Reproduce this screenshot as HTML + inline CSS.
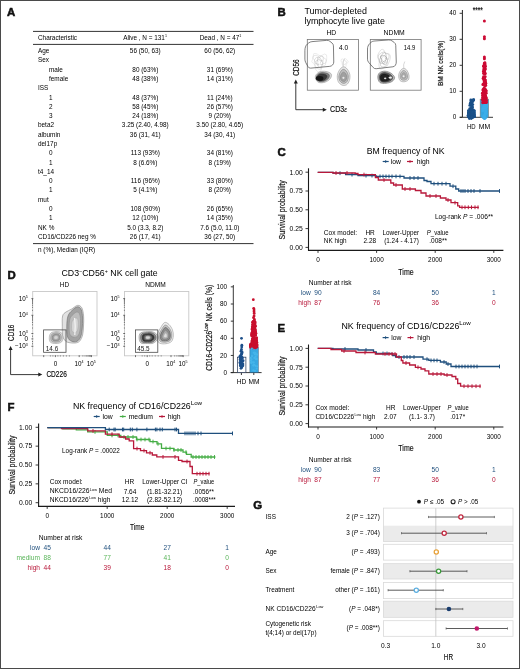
<!DOCTYPE html><html><head><meta charset="utf-8"><style>html,body{margin:0;padding:0;background:#fff;}svg{display:block;font-family:"Liberation Sans",sans-serif;will-change:transform;}</style></head><body><svg width="520" height="669" viewBox="0 0 520 669" font-family="&quot;Liberation Sans&quot;, sans-serif">
<rect width="520" height="669" fill="#fff"/>
<text x="6.90" y="16.40" font-size="11.4" fill="#111" font-weight="bold" stroke="#111" stroke-width="0.55">A</text>
<line x1="33.00" y1="31.40" x2="253.50" y2="31.40" stroke="#333" stroke-width="1"/>
<line x1="33.00" y1="44.40" x2="253.50" y2="44.40" stroke="#333" stroke-width="1"/>
<line x1="33.00" y1="243.60" x2="253.50" y2="243.60" stroke="#333" stroke-width="1"/>
<text x="38.00" y="39.80" font-size="6.4">Characteristic</text>
<text x="145.00" y="39.80" font-size="6.4" text-anchor="middle">Alive , N = 131<tspan font-size="3.6" dy="-2.6">1</tspan></text>
<text x="220.50" y="39.80" font-size="6.4" text-anchor="middle">Dead , N = 47<tspan font-size="3.6" dy="-2.6">1</tspan></text>
<text x="38.00" y="53.10" font-size="6.4">Age</text>
<text x="145.30" y="53.10" font-size="6.4" text-anchor="middle">56 (50, 63)</text>
<text x="219.80" y="53.10" font-size="6.4" text-anchor="middle">60 (56, 62)</text>
<text x="38.00" y="62.39" font-size="6.4">Sex</text>
<text x="49.00" y="71.68" font-size="6.4">male</text>
<text x="145.30" y="71.68" font-size="6.4" text-anchor="middle">80 (63%)</text>
<text x="219.80" y="71.68" font-size="6.4" text-anchor="middle">31 (69%)</text>
<text x="49.00" y="80.97" font-size="6.4">female</text>
<text x="145.30" y="80.97" font-size="6.4" text-anchor="middle">48 (38%)</text>
<text x="219.80" y="80.97" font-size="6.4" text-anchor="middle">14 (31%)</text>
<text x="38.00" y="90.26" font-size="6.4">ISS</text>
<text x="49.00" y="99.55" font-size="6.4">1</text>
<text x="145.30" y="99.55" font-size="6.4" text-anchor="middle">48 (37%)</text>
<text x="219.80" y="99.55" font-size="6.4" text-anchor="middle">11 (24%)</text>
<text x="49.00" y="108.84" font-size="6.4">2</text>
<text x="145.30" y="108.84" font-size="6.4" text-anchor="middle">58 (45%)</text>
<text x="219.80" y="108.84" font-size="6.4" text-anchor="middle">26 (57%)</text>
<text x="49.00" y="118.13" font-size="6.4">3</text>
<text x="145.30" y="118.13" font-size="6.4" text-anchor="middle">24 (18%)</text>
<text x="219.80" y="118.13" font-size="6.4" text-anchor="middle">9 (20%)</text>
<text x="38.00" y="127.42" font-size="6.4">beta2</text>
<text x="145.30" y="127.42" font-size="6.4" text-anchor="middle">3.25 (2.40, 4.98)</text>
<text x="219.80" y="127.42" font-size="6.4" text-anchor="middle">3.50 (2.80, 4.65)</text>
<text x="38.00" y="136.71" font-size="6.4">albumin</text>
<text x="145.30" y="136.71" font-size="6.4" text-anchor="middle">36 (31, 41)</text>
<text x="219.80" y="136.71" font-size="6.4" text-anchor="middle">34 (30, 41)</text>
<text x="38.00" y="146.00" font-size="6.4">del17p</text>
<text x="49.00" y="155.29" font-size="6.4">0</text>
<text x="145.30" y="155.29" font-size="6.4" text-anchor="middle">113 (93%)</text>
<text x="219.80" y="155.29" font-size="6.4" text-anchor="middle">34 (81%)</text>
<text x="49.00" y="164.58" font-size="6.4">1</text>
<text x="145.30" y="164.58" font-size="6.4" text-anchor="middle">8 (6.6%)</text>
<text x="219.80" y="164.58" font-size="6.4" text-anchor="middle">8 (19%)</text>
<text x="38.00" y="173.87" font-size="6.4">t4_14</text>
<text x="49.00" y="183.16" font-size="6.4">0</text>
<text x="145.30" y="183.16" font-size="6.4" text-anchor="middle">116 (96%)</text>
<text x="219.80" y="183.16" font-size="6.4" text-anchor="middle">33 (80%)</text>
<text x="49.00" y="192.45" font-size="6.4">1</text>
<text x="145.30" y="192.45" font-size="6.4" text-anchor="middle">5 (4.1%)</text>
<text x="219.80" y="192.45" font-size="6.4" text-anchor="middle">8 (20%)</text>
<text x="38.00" y="201.74" font-size="6.4">mut</text>
<text x="49.00" y="211.03" font-size="6.4">0</text>
<text x="145.30" y="211.03" font-size="6.4" text-anchor="middle">108 (90%)</text>
<text x="219.80" y="211.03" font-size="6.4" text-anchor="middle">26 (65%)</text>
<text x="49.00" y="220.32" font-size="6.4">1</text>
<text x="145.30" y="220.32" font-size="6.4" text-anchor="middle">12 (10%)</text>
<text x="219.80" y="220.32" font-size="6.4" text-anchor="middle">14 (35%)</text>
<text x="38.00" y="229.61" font-size="6.4">NK %</text>
<text x="145.30" y="229.61" font-size="6.4" text-anchor="middle">5.0 (3.3, 8.2)</text>
<text x="219.80" y="229.61" font-size="6.4" text-anchor="middle">7.6 (5.0, 11.0)</text>
<text x="38.00" y="238.90" font-size="6.4">CD16/CD226 neg %</text>
<text x="145.30" y="238.90" font-size="6.4" text-anchor="middle">26 (17, 41)</text>
<text x="219.80" y="238.90" font-size="6.4" text-anchor="middle">36 (27, 50)</text>
<text x="38.00" y="251.90" font-size="6.4">n (%), Median (IQR)</text>
<text x="277.50" y="15.90" font-size="11.4" fill="#111" font-weight="bold" stroke="#111" stroke-width="0.55">B</text>
<text x="304.50" y="14.00" font-size="8.9">Tumor-depleted</text>
<text x="304.50" y="24.30" font-size="8.9">lymphocyte live gate</text>
<text x="331.30" y="34.70" font-size="6.8" text-anchor="middle">HD</text>
<text x="394.20" y="34.80" font-size="6.8" text-anchor="middle">NDMM</text>
<rect x="307.3" y="39.5" width="51.2" height="50.7" fill="none" stroke="#777" stroke-width="0.8"/>
<rect x="370.3" y="39.5" width="50.8" height="50.7" fill="none" stroke="#777" stroke-width="0.8"/>
<path d="M325.69,61.50 L325.67,63.16 L325.53,64.93 L324.06,65.84 L322.55,66.15 L321.86,67.58 L321.06,70.32 L319.30,71.91 L317.32,71.43 L315.78,69.85 L315.78,66.54 L315.26,65.18 L314.19,64.31 L312.86,63.18 L311.70,61.50 L312.43,59.71 L312.52,57.77 L313.25,55.99 L313.77,53.58 L315.96,53.57 L317.88,54.38 L319.30,55.67 L320.42,55.91 L321.85,55.44 L324.52,54.02 L326.50,54.94 L326.76,57.39 L326.67,59.58Z" fill="none" stroke="#d8d8d8" stroke-width="0.5"/>
<path d="M326.37,61.50 L325.58,63.14 L323.47,63.80 L322.32,64.25 L321.98,65.34 L321.69,67.17 L320.80,68.99 L319.30,69.20 L317.86,68.71 L316.62,67.86 L315.35,67.16 L314.69,65.70 L314.87,63.94 L315.42,62.51 L315.08,61.50 L314.45,60.24 L313.11,58.09 L313.28,56.02 L315.05,55.40 L316.72,55.37 L318.30,56.49 L319.30,55.90 L320.47,55.62 L321.52,56.24 L322.65,56.70 L323.66,57.53 L324.70,58.53 L326.38,59.65Z" fill="none" stroke="#cccccc" stroke-width="0.5"/>
<path d="M322.91,61.50 L323.02,62.47 L322.99,63.53 L322.42,64.35 L322.02,65.40 L321.35,66.37 L320.54,67.73 L319.30,67.58 L318.32,66.42 L317.84,64.96 L317.64,63.88 L316.72,63.85 L315.25,63.73 L314.38,62.78 L314.43,61.50 L314.61,60.28 L314.90,59.08 L315.73,58.24 L316.38,57.32 L317.61,57.50 L318.63,58.14 L319.30,58.06 L320.28,56.61 L321.59,56.06 L322.81,56.47 L323.27,57.88 L323.32,59.29 L322.95,60.55Z" fill="none" stroke="#c0c0c0" stroke-width="0.5"/>
<path d="M322.00,61.50 L322.49,62.33 L322.81,63.43 L322.47,64.39 L321.40,64.51 L320.40,64.10 L319.72,63.58 L319.30,64.05 L318.66,64.70 L317.76,65.15 L317.10,64.65 L316.61,63.95 L316.35,63.12 L316.13,62.33 L315.93,61.50 L316.47,60.76 L317.32,60.41 L317.74,60.08 L317.62,59.10 L317.76,57.85 L318.38,56.89 L319.30,57.10 L320.00,57.97 L320.46,58.75 L320.87,59.24 L321.31,59.67 L321.67,60.19 L322.09,60.77Z" fill="none" stroke="#b0b0b0" stroke-width="0.5"/>
<path d="M321.23,61.50 L320.66,61.86 L320.44,62.13 L320.36,62.47 L320.27,62.88 L319.99,63.13 L319.66,63.31 L319.30,63.58 L318.82,63.89 L318.34,63.77 L318.09,63.24 L318.13,62.56 L318.23,62.09 L318.17,61.79 L317.81,61.50 L317.31,60.98 L317.37,60.44 L317.80,60.14 L318.22,59.95 L318.57,59.77 L318.89,59.46 L319.30,59.73 L319.61,59.93 L319.89,60.11 L320.16,60.27 L320.79,60.15 L321.35,60.37 L321.57,60.91Z" fill="none" stroke="#9a9a9a" stroke-width="0.5"/>
<circle cx="319.3" cy="62.8" r="1.2" fill="#fff"/>
<path d="M347.91,62.50 L347.11,63.29 L346.44,63.75 L346.26,64.37 L346.10,65.17 L345.96,66.55 L345.35,67.47 L344.50,67.09 L343.83,66.44 L343.21,66.08 L342.62,65.64 L342.34,64.80 L342.23,63.95 L341.99,63.26 L341.92,62.50 L341.31,61.53 L341.02,60.26 L341.43,59.24 L342.36,58.92 L343.32,59.24 L343.99,59.53 L344.50,59.12 L345.16,58.66 L345.87,58.71 L346.44,59.25 L346.92,59.93 L347.49,60.58 L348.11,61.40Z" fill="none" stroke="#d8d8d8" stroke-width="0.5"/>
<path d="M346.47,62.50 L346.29,63.05 L345.93,63.42 L345.76,63.84 L345.54,64.24 L345.14,64.27 L344.83,64.40 L344.50,64.52 L344.10,64.86 L343.56,65.11 L343.12,64.81 L343.03,64.06 L343.10,63.40 L343.29,62.87 L343.06,62.50 L342.88,62.01 L342.98,61.53 L343.14,61.05 L343.38,60.63 L343.65,60.15 L344.07,59.96 L344.50,59.92 L344.85,60.47 L345.06,60.95 L345.28,61.19 L345.70,61.22 L346.18,61.42 L346.62,61.85Z" fill="none" stroke="#cccccc" stroke-width="0.5"/>
<path d="M315.30,78.00 C315.02,76.57 315.77,74.92 316.80,73.80 C317.83,72.68 319.72,71.63 321.50,71.30 C323.28,70.97 325.85,71.30 327.50,71.80 C329.15,72.30 330.95,73.13 331.40,74.30 C331.85,75.47 331.27,77.48 330.20,78.80 C329.13,80.12 326.95,81.60 325.00,82.20 C323.05,82.80 320.12,83.10 318.50,82.40 C316.88,81.70 315.58,79.43 315.30,78.00Z" fill="#d4d4d4" stroke="#8a8a8a" stroke-width="0.5"/>
<path d="M316.44,77.90 C316.21,76.75 316.81,75.43 317.64,74.54 C318.47,73.65 319.97,72.81 321.40,72.54 C322.83,72.27 324.88,72.54 326.20,72.94 C327.52,73.34 328.96,74.01 329.32,74.94 C329.68,75.87 329.21,77.49 328.36,78.54 C327.51,79.59 325.76,80.78 324.20,81.26 C322.64,81.74 320.29,81.98 319.00,81.42 C317.71,80.86 316.67,79.05 316.44,77.90Z" fill="#7a7a7a" stroke="#555" stroke-width="0.5"/>
<path d="M317.18,78.00 C317.01,77.14 317.46,76.15 318.08,75.48 C318.70,74.81 319.83,74.18 320.90,73.98 C321.97,73.78 323.51,73.98 324.50,74.28 C325.49,74.58 326.57,75.08 326.84,75.78 C327.11,76.48 326.76,77.69 326.12,78.48 C325.48,79.27 324.17,80.16 323.00,80.52 C321.83,80.88 320.07,81.06 319.10,80.64 C318.13,80.22 317.35,78.86 317.18,78.00Z" fill="#3a3a3a" stroke="#2a2a2a" stroke-width="0.5"/>
<ellipse cx="319.6" cy="78.4" rx="3.8" ry="2.3" fill="#151515"/>
<path d="M343.20,66.80 C344.47,66.67 346.10,67.72 347.20,69.00 C348.30,70.28 349.43,72.58 349.80,74.50 C350.17,76.42 349.95,78.78 349.40,80.50 C348.85,82.22 347.70,84.02 346.50,84.80 C345.30,85.58 343.57,85.70 342.20,85.20 C340.83,84.70 339.12,83.42 338.30,81.80 C337.48,80.18 337.08,77.50 337.30,75.50 C337.52,73.50 338.62,71.25 339.60,69.80 C340.58,68.35 341.93,66.93 343.20,66.80Z" fill="#e4e4e4" stroke="#8c8c8c" stroke-width="0.5"/>
<path d="M343.27,69.35 C344.22,69.25 345.45,70.04 346.27,71.00 C347.10,71.96 347.95,73.69 348.23,75.12 C348.50,76.56 348.34,78.34 347.92,79.62 C347.51,80.91 346.65,82.26 345.75,82.85 C344.85,83.44 343.55,83.53 342.52,83.15 C341.50,82.78 340.21,81.81 339.60,80.60 C338.99,79.39 338.69,77.38 338.85,75.88 C339.01,74.38 339.84,72.69 340.58,71.60 C341.31,70.51 342.32,69.45 343.27,69.35Z" fill="#bdbdbd" stroke="#777" stroke-width="0.5"/>
<path d="M343.35,72.15 C343.98,72.08 344.80,72.61 345.35,73.25 C345.90,73.89 346.47,75.04 346.65,76.00 C346.83,76.96 346.72,78.14 346.45,79.00 C346.18,79.86 345.60,80.76 345.00,81.15 C344.40,81.54 343.53,81.60 342.85,81.35 C342.17,81.10 341.31,80.46 340.90,79.65 C340.49,78.84 340.29,77.50 340.40,76.50 C340.51,75.50 341.06,74.38 341.55,73.65 C342.04,72.93 342.72,72.22 343.35,72.15Z" fill="#a0a0a0" stroke="#777" stroke-width="0.4"/>
<circle cx="343.4" cy="77.8" r="1.1" fill="#e8e8e8"/>
<path d="M343.2,66.8 Q342.5,62 344.5,58.5" fill="none" stroke="#bbb" stroke-width="0.5"/>
<path d="M305.46,46.92 Q306.00,45.20 307.39,44.05 L308.71,42.95 Q310.10,41.80 311.89,41.64 L326.71,40.36 Q328.50,40.20 329.91,41.32 L331.99,42.98 Q333.40,44.10 333.44,45.90 L333.76,61.97 Q333.80,63.70 332.60,64.95 L332.60,64.95 Q331.40,66.20 329.67,66.36 L310.69,68.13 Q308.90,68.30 308.04,66.72 L305.76,62.58 Q304.90,61.00 304.90,59.20 L304.90,50.50 Q304.90,48.70 305.44,46.98Z" fill="none" stroke="#555" stroke-width="0.75"/>
<text x="343.60" y="50.40" font-size="6.6" text-anchor="middle" textLength="9.2" lengthAdjust="spacingAndGlyphs">4.0</text>
<path d="M390.08,59.10 L389.51,61.12 L388.69,62.77 L388.00,64.36 L387.22,65.91 L385.98,66.51 L384.81,67.07 L383.60,67.97 L382.12,68.83 L380.42,69.02 L379.29,67.21 L378.86,64.78 L379.32,62.19 L378.77,60.75 L378.34,59.10 L377.76,57.10 L377.84,54.94 L378.61,53.13 L379.62,51.62 L380.70,50.08 L382.10,49.23 L383.60,49.80 L384.72,51.75 L385.56,52.99 L386.57,53.52 L388.36,53.40 L389.85,54.59 L390.48,56.74Z" fill="none" stroke="#d0d0d0" stroke-width="0.6"/>
<path d="M388.46,59.10 L387.43,60.41 L387.09,61.62 L387.13,63.32 L386.69,64.91 L385.81,65.98 L384.73,66.52 L383.60,66.79 L382.42,66.84 L381.22,66.50 L380.43,65.06 L380.29,63.06 L380.19,61.56 L379.67,60.44 L378.63,59.10 L378.13,57.23 L378.30,55.27 L379.52,54.22 L380.67,53.59 L381.53,52.65 L382.58,52.42 L383.60,52.01 L384.57,52.72 L385.51,53.15 L386.62,53.42 L387.86,54.00 L389.08,55.14 L389.02,57.24Z" fill="none" stroke="#c0c0c0" stroke-width="0.6"/>
<path d="M387.52,59.10 L387.55,60.45 L387.29,61.77 L386.79,62.92 L386.04,63.69 L385.34,64.51 L384.43,64.57 L383.60,64.38 L382.90,63.67 L382.32,63.10 L381.39,63.25 L380.21,63.15 L379.46,62.09 L379.38,60.55 L379.96,59.10 L380.31,57.98 L380.66,56.97 L380.93,55.90 L381.48,55.12 L382.09,54.39 L382.79,53.75 L383.60,52.93 L384.62,52.37 L385.49,53.20 L385.96,54.66 L386.04,56.18 L386.31,57.14 L386.68,58.04Z" fill="none" stroke="#a8a8a8" stroke-width="0.6"/>
<path d="M386.64,59.10 L386.05,59.94 L385.41,60.40 L385.21,61.03 L385.01,61.74 L384.78,62.77 L384.25,63.34 L383.60,63.50 L382.97,63.21 L382.43,62.75 L381.97,62.17 L381.54,61.56 L381.46,60.65 L381.57,59.79 L381.40,59.10 L380.95,58.19 L380.70,57.01 L381.04,56.03 L381.76,55.65 L382.53,55.75 L383.12,55.93 L383.60,55.62 L384.15,55.52 L384.71,55.65 L385.18,56.13 L385.62,56.68 L386.28,57.16 L386.53,58.10Z" fill="none" stroke="#8e8e8e" stroke-width="0.6"/>
<path d="M385.00,59.10 L384.85,59.53 L384.68,59.88 L384.72,60.44 L384.52,60.84 L384.25,61.13 L383.94,61.34 L383.60,61.45 L383.21,61.65 L382.86,61.40 L382.71,60.78 L382.62,60.27 L382.60,59.82 L382.34,59.53 L382.11,59.10 L381.92,58.52 L382.13,58.04 L382.41,57.68 L382.70,57.41 L382.98,57.18 L383.28,56.97 L383.60,57.13 L383.87,57.35 L384.16,57.35 L384.53,57.34 L384.94,57.49 L385.21,57.93 L385.26,58.53Z" fill="none" stroke="#8a8a8a" stroke-width="0.6"/>
<ellipse cx="383.6" cy="58.8" rx="1.5" ry="2.3" fill="#fff"/>
<path d="M377.80,77.50 C377.72,75.87 378.30,73.85 379.50,72.80 C380.70,71.75 383.08,71.13 385.00,71.20 C386.92,71.27 389.40,72.15 391.00,73.20 C392.60,74.25 394.43,76.12 394.60,77.50 C394.77,78.88 393.43,80.53 392.00,81.50 C390.57,82.47 388.00,83.12 386.00,83.30 C384.00,83.48 381.37,83.57 380.00,82.60 C378.63,81.63 377.88,79.13 377.80,77.50Z" fill="#bcbcbc" stroke="#666" stroke-width="0.6"/>
<path d="M379.24,77.50 C379.17,76.19 379.64,74.58 380.60,73.74 C381.56,72.90 383.47,72.41 385.00,72.46 C386.53,72.51 388.52,73.22 389.80,74.06 C391.08,74.90 392.55,76.39 392.68,77.50 C392.81,78.61 391.75,79.93 390.60,80.70 C389.45,81.47 387.40,81.99 385.80,82.14 C384.20,82.29 382.09,82.35 381.00,81.58 C379.91,80.81 379.31,78.81 379.24,77.50Z" fill="#5a5a5a" stroke="#333" stroke-width="0.5"/>
<path d="M380.28,77.70 C380.23,76.72 380.58,75.51 381.30,74.88 C382.02,74.25 383.45,73.88 384.60,73.92 C385.75,73.96 387.24,74.49 388.20,75.12 C389.16,75.75 390.26,76.87 390.36,77.70 C390.46,78.53 389.66,79.52 388.80,80.10 C387.94,80.68 386.40,81.07 385.20,81.18 C384.00,81.29 382.42,81.34 381.60,80.76 C380.78,80.18 380.33,78.68 380.28,77.70Z" fill="#222" stroke="#111" stroke-width="0.5"/>
<ellipse cx="385.2" cy="78.3" rx="1.2" ry="0.9" fill="#ddd"/>
<ellipse cx="390.3" cy="77.6" rx="1.6" ry="1.2" fill="#eee"/>
<path d="M403.80,68.30 C404.88,68.30 406.13,69.30 407.00,70.50 C407.87,71.70 408.80,73.92 409.00,75.50 C409.20,77.08 409.03,78.95 408.20,80.00 C407.37,81.05 405.37,81.72 404.00,81.80 C402.63,81.88 400.90,81.55 400.00,80.50 C399.10,79.45 398.52,77.17 398.60,75.50 C398.68,73.83 399.63,71.70 400.50,70.50 C401.37,69.30 402.72,68.30 403.80,68.30Z" fill="#e6e6e6" stroke="#8c8c8c" stroke-width="0.5"/>
<path d="M403.80,70.46 C404.58,70.46 405.48,71.18 406.10,72.04 C406.73,72.90 407.40,74.50 407.54,75.64 C407.69,76.78 407.57,78.12 406.97,78.88 C406.37,79.64 404.93,80.12 403.94,80.18 C402.96,80.24 401.71,80.00 401.06,79.24 C400.42,78.48 400.00,76.84 400.06,75.64 C400.12,74.44 400.80,72.90 401.42,72.04 C402.05,71.18 403.02,70.46 403.80,70.46Z" fill="#c2c2c2" stroke="#7a7a7a" stroke-width="0.5"/>
<path d="M403.80,72.53 C404.29,72.53 404.85,72.98 405.24,73.53 C405.63,74.07 406.05,75.06 406.14,75.78 C406.23,76.49 406.15,77.33 405.78,77.80 C405.40,78.27 404.50,78.57 403.89,78.61 C403.27,78.65 402.50,78.50 402.09,78.03 C401.69,77.55 401.42,76.53 401.46,75.78 C401.50,75.03 401.93,74.07 402.31,73.53 C402.70,72.98 403.31,72.53 403.80,72.53Z" fill="#aaaaaa" stroke="#888" stroke-width="0.4"/>
<circle cx="403.6" cy="76.2" r="1.0" fill="#f0f0f0"/>
<path d="M403.8,68.3 Q403,64.5 404.8,61.5" fill="none" stroke="#b0b0b0" stroke-width="0.5"/>
<path d="M368.05,46.10 Q368.60,44.70 369.66,43.64 L370.83,42.47 Q372.10,41.20 373.89,41.06 L388.71,39.94 Q390.50,39.80 391.97,40.84 L394.23,42.46 Q395.70,43.50 395.75,45.30 L396.25,62.02 Q396.30,63.70 395.45,65.15 L395.45,65.15 Q394.60,66.60 392.93,66.79 L376.19,68.70 Q374.40,68.90 373.22,67.54 L368.68,62.36 Q367.50,61.00 367.50,59.20 L367.50,49.00 Q367.50,47.50 368.05,46.10Z" fill="none" stroke="#555" stroke-width="0.75"/>
<text x="409.50" y="50.40" font-size="6.6" text-anchor="middle" textLength="11.5" lengthAdjust="spacingAndGlyphs">14.9</text>
<path d="M295.8,109.7 V82 M295.8,109.7 H324" fill="none" stroke="#222" stroke-width="0.9"/>
<path d="M295.8,79.5 L293.8,83.5 L297.8,83.5 Z M326.8,109.7 L322.8,107.7 L322.8,111.7 Z" fill="#222"/>
<text x="299.00" y="67.60" font-size="8.8" stroke="#2b2b2b" stroke-width="0.18" text-anchor="middle" textLength="16.4" lengthAdjust="spacingAndGlyphs" transform="rotate(-90 299.0 67.6)">CD56</text>
<text x="330.10" y="112.10" font-size="8.8" stroke="#2b2b2b" stroke-width="0.18" textLength="16.7" lengthAdjust="spacingAndGlyphs">CD3<tspan font-family="Liberation Serif" font-style="italic" font-size="8">ε</tspan></text>
<line x1="462.40" y1="10.00" x2="462.40" y2="117.30" stroke="#222" stroke-width="1.0"/>
<line x1="459.80" y1="117.30" x2="493.00" y2="117.30" stroke="#222" stroke-width="0.9"/>
<line x1="459.60" y1="117.30" x2="462.00" y2="117.30" stroke="#222" stroke-width="0.9"/>
<text x="456.40" y="119.20" font-size="6.4" text-anchor="end">0</text>
<line x1="459.60" y1="91.30" x2="462.00" y2="91.30" stroke="#222" stroke-width="0.9"/>
<text x="456.40" y="93.20" font-size="6.4" text-anchor="end">10</text>
<line x1="459.60" y1="65.30" x2="462.00" y2="65.30" stroke="#222" stroke-width="0.9"/>
<text x="456.40" y="67.20" font-size="6.4" text-anchor="end">20</text>
<line x1="459.60" y1="39.30" x2="462.00" y2="39.30" stroke="#222" stroke-width="0.9"/>
<text x="456.40" y="41.20" font-size="6.4" text-anchor="end">30</text>
<line x1="459.60" y1="13.30" x2="462.00" y2="13.30" stroke="#222" stroke-width="0.9"/>
<text x="456.40" y="15.20" font-size="6.4" text-anchor="end">40</text>
<text x="443.00" y="63.30" font-size="7.8" stroke="#2b2b2b" stroke-width="0.2" text-anchor="middle" textLength="45.5" lengthAdjust="spacingAndGlyphs" transform="rotate(-90 443.0 63.3)">BM NK cells(%)</text>
<text x="477.80" y="13.30" font-size="8.5" text-anchor="middle" fill="#222" font-weight="bold" textLength="10" lengthAdjust="spacingAndGlyphs">****</text>
<text x="471.25" y="128.90" font-size="6.3" text-anchor="middle" textLength="8.7" lengthAdjust="spacingAndGlyphs">HD</text>
<text x="484.40" y="128.90" font-size="6.3" text-anchor="middle" textLength="11.4" lengthAdjust="spacingAndGlyphs">MM</text>
<rect x="467.1" y="109.76" width="8.7" height="8.14" fill="#1d5a94"/>
<path d="M467.4,117.30 L471.3,120.10 L475.5,117.30 Z" fill="#1a5088"/>
<circle cx="471.71" cy="110.01" r="1.4" fill="#1a5088"/>
<circle cx="471.14" cy="101.06" r="1.4" fill="#1a5088"/>
<circle cx="471.60" cy="108.96" r="1.4" fill="#1a5088"/>
<circle cx="471.38" cy="115.10" r="1.4" fill="#1a5088"/>
<circle cx="472.30" cy="106.64" r="1.4" fill="#1a5088"/>
<circle cx="469.96" cy="116.81" r="1.4" fill="#1a5088"/>
<circle cx="473.41" cy="116.88" r="1.4" fill="#1a5088"/>
<circle cx="469.74" cy="105.44" r="1.4" fill="#1a5088"/>
<circle cx="473.53" cy="99.96" r="1.4" fill="#1a5088"/>
<circle cx="471.69" cy="106.19" r="1.4" fill="#1a5088"/>
<circle cx="468.00" cy="115.61" r="1.4" fill="#1a5088"/>
<circle cx="469.80" cy="108.57" r="1.4" fill="#1a5088"/>
<circle cx="469.55" cy="114.99" r="1.4" fill="#1a5088"/>
<circle cx="471.05" cy="118.03" r="1.4" fill="#1a5088"/>
<circle cx="473.63" cy="110.24" r="1.4" fill="#1a5088"/>
<circle cx="471.78" cy="108.75" r="1.4" fill="#1a5088"/>
<circle cx="471.85" cy="109.11" r="1.4" fill="#1a5088"/>
<circle cx="469.79" cy="109.92" r="1.4" fill="#1a5088"/>
<circle cx="473.68" cy="99.66" r="1.4" fill="#1a5088"/>
<circle cx="472.01" cy="102.65" r="1.4" fill="#1a5088"/>
<circle cx="469.46" cy="112.62" r="1.4" fill="#1a5088"/>
<circle cx="468.38" cy="113.11" r="1.4" fill="#1a5088"/>
<circle cx="470.96" cy="104.06" r="1.4" fill="#1a5088"/>
<circle cx="470.91" cy="102.53" r="1.4" fill="#1a5088"/>
<circle cx="472.97" cy="100.42" r="1.4" fill="#1a5088"/>
<circle cx="469.33" cy="118.59" r="1.4" fill="#1a5088"/>
<circle cx="471.16" cy="101.32" r="1.4" fill="#1a5088"/>
<circle cx="470.81" cy="99.99" r="1.4" fill="#1a5088"/>
<circle cx="472.18" cy="117.21" r="1.4" fill="#1a5088"/>
<circle cx="470.52" cy="103.82" r="1.4" fill="#1a5088"/>
<circle cx="470.16" cy="116.95" r="1.4" fill="#1a5088"/>
<circle cx="472.54" cy="100.30" r="1.4" fill="#1a5088"/>
<circle cx="469.58" cy="116.36" r="1.4" fill="#1a5088"/>
<circle cx="468.31" cy="116.68" r="1.4" fill="#1a5088"/>
<circle cx="470.20" cy="103.47" r="1.4" fill="#1a5088"/>
<circle cx="471.12" cy="107.98" r="1.4" fill="#1a5088"/>
<circle cx="472.88" cy="114.98" r="1.4" fill="#1a5088"/>
<circle cx="472.28" cy="116.11" r="1.4" fill="#1a5088"/>
<circle cx="470.76" cy="116.39" r="1.4" fill="#1a5088"/>
<circle cx="469.73" cy="114.56" r="1.4" fill="#1a5088"/>
<circle cx="472.76" cy="100.17" r="1.4" fill="#1a5088"/>
<circle cx="473.92" cy="112.83" r="1.4" fill="#1a5088"/>
<circle cx="470.58" cy="114.60" r="1.4" fill="#1a5088"/>
<circle cx="471.78" cy="102.38" r="1.4" fill="#1a5088"/>
<circle cx="474.63" cy="116.70" r="1.4" fill="#1a5088"/>
<circle cx="469.66" cy="114.55" r="1.4" fill="#1a5088"/>
<circle cx="470.72" cy="103.93" r="1.4" fill="#1a5088"/>
<circle cx="468.40" cy="112.98" r="1.4" fill="#1a5088"/>
<circle cx="471.86" cy="116.89" r="1.4" fill="#1a5088"/>
<circle cx="471.99" cy="113.99" r="1.4" fill="#1a5088"/>
<circle cx="470.98" cy="111.55" r="1.4" fill="#1a5088"/>
<circle cx="471.22" cy="100.40" r="1.4" fill="#1a5088"/>
<circle cx="472.55" cy="107.69" r="1.4" fill="#1a5088"/>
<circle cx="468.95" cy="115.13" r="1.4" fill="#1a5088"/>
<circle cx="472.83" cy="101.36" r="1.4" fill="#1a5088"/>
<circle cx="469.19" cy="113.86" r="1.4" fill="#1a5088"/>
<circle cx="472.80" cy="104.57" r="1.4" fill="#1a5088"/>
<circle cx="474.36" cy="114.87" r="1.4" fill="#1a5088"/>
<circle cx="471.80" cy="101.86" r="1.4" fill="#1a5088"/>
<circle cx="468.61" cy="110.60" r="1.4" fill="#1a5088"/>
<rect x="480.1" y="99.10" width="8.6" height="18.20" fill="#35a6e0" stroke="#8a7a6a" stroke-width="0.5"/>
<path d="M480.6,117.30 L484.4,120.10 L488.2,117.30 Z" fill="#3aaeea"/>
<circle cx="485.16" cy="117.95" r="1.3" fill="#3aaeea"/>
<circle cx="484.94" cy="114.57" r="1.3" fill="#3aaeea"/>
<circle cx="485.29" cy="114.26" r="1.3" fill="#3aaeea"/>
<circle cx="483.40" cy="108.52" r="1.3" fill="#3aaeea"/>
<circle cx="484.90" cy="115.64" r="1.3" fill="#3aaeea"/>
<circle cx="483.95" cy="117.44" r="1.3" fill="#3aaeea"/>
<circle cx="486.02" cy="109.15" r="1.3" fill="#3aaeea"/>
<circle cx="483.31" cy="108.22" r="1.3" fill="#3aaeea"/>
<circle cx="482.39" cy="103.10" r="1.3" fill="#3aaeea"/>
<circle cx="484.02" cy="118.32" r="1.3" fill="#3aaeea"/>
<circle cx="482.68" cy="111.07" r="1.3" fill="#3aaeea"/>
<circle cx="484.10" cy="115.62" r="1.3" fill="#3aaeea"/>
<circle cx="482.67" cy="108.93" r="1.3" fill="#3aaeea"/>
<circle cx="485.73" cy="112.48" r="1.3" fill="#3aaeea"/>
<circle cx="485.53" cy="102.03" r="1.3" fill="#3aaeea"/>
<circle cx="484.86" cy="106.92" r="1.3" fill="#3aaeea"/>
<circle cx="483.45" cy="116.23" r="1.3" fill="#3aaeea"/>
<circle cx="485.08" cy="118.30" r="1.3" fill="#3aaeea"/>
<circle cx="486.93" cy="106.75" r="1.3" fill="#3aaeea"/>
<circle cx="484.62" cy="118.24" r="1.3" fill="#3aaeea"/>
<circle cx="485.35" cy="110.45" r="1.3" fill="#3aaeea"/>
<circle cx="485.96" cy="113.21" r="1.3" fill="#3aaeea"/>
<circle cx="484.48" cy="117.33" r="1.3" fill="#3aaeea"/>
<circle cx="486.68" cy="106.14" r="1.3" fill="#3aaeea"/>
<circle cx="485.56" cy="106.14" r="1.3" fill="#3aaeea"/>
<circle cx="486.91" cy="105.19" r="1.3" fill="#3aaeea"/>
<circle cx="485.02" cy="112.65" r="1.3" fill="#3aaeea"/>
<circle cx="486.89" cy="103.38" r="1.3" fill="#3aaeea"/>
<circle cx="485.49" cy="111.55" r="1.3" fill="#3aaeea"/>
<circle cx="484.87" cy="104.01" r="1.3" fill="#3aaeea"/>
<circle cx="483.81" cy="108.04" r="1.3" fill="#3aaeea"/>
<circle cx="484.92" cy="108.75" r="1.3" fill="#3aaeea"/>
<circle cx="484.63" cy="117.24" r="1.3" fill="#3aaeea"/>
<circle cx="487.16" cy="101.81" r="1.3" fill="#3aaeea"/>
<circle cx="483.77" cy="106.29" r="1.3" fill="#3aaeea"/>
<circle cx="484.86" cy="106.18" r="1.3" fill="#3aaeea"/>
<circle cx="485.71" cy="111.16" r="1.3" fill="#3aaeea"/>
<circle cx="484.82" cy="117.18" r="1.3" fill="#3aaeea"/>
<circle cx="484.57" cy="118.10" r="1.3" fill="#3aaeea"/>
<circle cx="483.29" cy="110.47" r="1.3" fill="#3aaeea"/>
<circle cx="484.90" cy="95.89" r="1.45" fill="#cc0a34"/>
<circle cx="484.02" cy="65.91" r="1.45" fill="#cc0a34"/>
<circle cx="483.41" cy="102.54" r="1.45" fill="#cc0a34"/>
<circle cx="482.84" cy="100.10" r="1.45" fill="#cc0a34"/>
<circle cx="484.66" cy="66.50" r="1.45" fill="#cc0a34"/>
<circle cx="485.71" cy="85.19" r="1.45" fill="#cc0a34"/>
<circle cx="483.16" cy="93.48" r="1.45" fill="#cc0a34"/>
<circle cx="485.44" cy="85.63" r="1.45" fill="#cc0a34"/>
<circle cx="485.01" cy="66.16" r="1.45" fill="#cc0a34"/>
<circle cx="483.62" cy="94.66" r="1.45" fill="#cc0a34"/>
<circle cx="484.38" cy="97.51" r="1.45" fill="#cc0a34"/>
<circle cx="485.06" cy="69.27" r="1.45" fill="#cc0a34"/>
<circle cx="483.56" cy="89.41" r="1.45" fill="#cc0a34"/>
<circle cx="484.18" cy="96.18" r="1.45" fill="#cc0a34"/>
<circle cx="483.26" cy="91.91" r="1.45" fill="#cc0a34"/>
<circle cx="484.37" cy="94.05" r="1.45" fill="#cc0a34"/>
<circle cx="485.70" cy="90.29" r="1.45" fill="#cc0a34"/>
<circle cx="484.34" cy="63.42" r="1.45" fill="#cc0a34"/>
<circle cx="486.25" cy="102.55" r="1.45" fill="#cc0a34"/>
<circle cx="485.41" cy="101.33" r="1.45" fill="#cc0a34"/>
<circle cx="483.85" cy="80.01" r="1.45" fill="#cc0a34"/>
<circle cx="482.59" cy="102.73" r="1.45" fill="#cc0a34"/>
<circle cx="482.83" cy="84.67" r="1.45" fill="#cc0a34"/>
<circle cx="483.90" cy="69.56" r="1.45" fill="#cc0a34"/>
<circle cx="485.04" cy="102.33" r="1.45" fill="#cc0a34"/>
<circle cx="484.83" cy="85.01" r="1.45" fill="#cc0a34"/>
<circle cx="485.19" cy="76.60" r="1.45" fill="#cc0a34"/>
<circle cx="483.17" cy="93.21" r="1.45" fill="#cc0a34"/>
<circle cx="483.36" cy="83.85" r="1.45" fill="#cc0a34"/>
<circle cx="484.26" cy="102.57" r="1.45" fill="#cc0a34"/>
<circle cx="483.32" cy="100.44" r="1.45" fill="#cc0a34"/>
<circle cx="485.13" cy="89.07" r="1.45" fill="#cc0a34"/>
<circle cx="484.75" cy="82.03" r="1.45" fill="#cc0a34"/>
<circle cx="485.71" cy="97.37" r="1.45" fill="#cc0a34"/>
<circle cx="483.73" cy="66.48" r="1.45" fill="#cc0a34"/>
<circle cx="484.74" cy="65.42" r="1.45" fill="#cc0a34"/>
<circle cx="484.95" cy="96.51" r="1.45" fill="#cc0a34"/>
<circle cx="484.20" cy="66.33" r="1.45" fill="#cc0a34"/>
<circle cx="485.49" cy="80.08" r="1.45" fill="#cc0a34"/>
<circle cx="484.26" cy="89.50" r="1.45" fill="#cc0a34"/>
<circle cx="483.64" cy="76.75" r="1.45" fill="#cc0a34"/>
<circle cx="485.14" cy="73.91" r="1.45" fill="#cc0a34"/>
<circle cx="483.24" cy="92.74" r="1.45" fill="#cc0a34"/>
<circle cx="485.19" cy="66.73" r="1.45" fill="#cc0a34"/>
<circle cx="484.45" cy="63.61" r="1.45" fill="#cc0a34"/>
<circle cx="486.28" cy="98.42" r="1.45" fill="#cc0a34"/>
<circle cx="484.12" cy="68.51" r="1.45" fill="#cc0a34"/>
<circle cx="484.12" cy="99.66" r="1.45" fill="#cc0a34"/>
<circle cx="484.35" cy="92.01" r="1.45" fill="#cc0a34"/>
<circle cx="485.91" cy="101.86" r="1.45" fill="#cc0a34"/>
<circle cx="485.83" cy="100.42" r="1.45" fill="#cc0a34"/>
<circle cx="485.71" cy="98.21" r="1.45" fill="#cc0a34"/>
<circle cx="482.83" cy="97.34" r="1.45" fill="#cc0a34"/>
<circle cx="485.09" cy="82.18" r="1.45" fill="#cc0a34"/>
<circle cx="486.22" cy="93.14" r="1.45" fill="#cc0a34"/>
<circle cx="485.82" cy="83.15" r="1.45" fill="#cc0a34"/>
<circle cx="483.10" cy="99.53" r="1.45" fill="#cc0a34"/>
<circle cx="485.46" cy="98.85" r="1.45" fill="#cc0a34"/>
<circle cx="484.46" cy="77.25" r="1.45" fill="#cc0a34"/>
<circle cx="484.51" cy="69.00" r="1.45" fill="#cc0a34"/>
<circle cx="485.95" cy="97.55" r="1.45" fill="#cc0a34"/>
<circle cx="483.92" cy="66.71" r="1.45" fill="#cc0a34"/>
<circle cx="485.26" cy="68.71" r="1.45" fill="#cc0a34"/>
<circle cx="483.13" cy="94.81" r="1.45" fill="#cc0a34"/>
<circle cx="484.41" cy="81.40" r="1.45" fill="#cc0a34"/>
<circle cx="483.10" cy="78.61" r="1.45" fill="#cc0a34"/>
<circle cx="483.97" cy="95.62" r="1.45" fill="#cc0a34"/>
<circle cx="484.53" cy="70.72" r="1.45" fill="#cc0a34"/>
<circle cx="485.01" cy="83.21" r="1.45" fill="#cc0a34"/>
<circle cx="484.03" cy="95.30" r="1.45" fill="#cc0a34"/>
<circle cx="485.01" cy="64.44" r="1.45" fill="#cc0a34"/>
<circle cx="484.29" cy="92.15" r="1.45" fill="#cc0a34"/>
<circle cx="485.80" cy="96.80" r="1.45" fill="#cc0a34"/>
<circle cx="484.36" cy="66.71" r="1.45" fill="#cc0a34"/>
<circle cx="483.22" cy="90.22" r="1.45" fill="#cc0a34"/>
<circle cx="483.00" cy="89.77" r="1.45" fill="#cc0a34"/>
<circle cx="483.40" cy="71.59" r="1.45" fill="#cc0a34"/>
<circle cx="483.23" cy="95.18" r="1.45" fill="#cc0a34"/>
<circle cx="483.74" cy="98.39" r="1.45" fill="#cc0a34"/>
<circle cx="483.34" cy="78.02" r="1.45" fill="#cc0a34"/>
<circle cx="483.54" cy="73.54" r="1.45" fill="#cc0a34"/>
<circle cx="482.99" cy="99.42" r="1.45" fill="#cc0a34"/>
<circle cx="484.21" cy="81.63" r="1.45" fill="#cc0a34"/>
<circle cx="484.09" cy="87.86" r="1.45" fill="#cc0a34"/>
<circle cx="482.98" cy="100.72" r="1.45" fill="#cc0a34"/>
<circle cx="484.77" cy="77.56" r="1.45" fill="#cc0a34"/>
<circle cx="485.46" cy="81.66" r="1.45" fill="#cc0a34"/>
<circle cx="483.37" cy="90.75" r="1.45" fill="#cc0a34"/>
<circle cx="485.10" cy="73.15" r="1.45" fill="#cc0a34"/>
<circle cx="484.10" cy="66.62" r="1.45" fill="#cc0a34"/>
<circle cx="483.33" cy="89.80" r="1.45" fill="#cc0a34"/>
<circle cx="484.90" cy="62.77" r="1.45" fill="#cc0a34"/>
<circle cx="483.23" cy="97.60" r="1.45" fill="#cc0a34"/>
<circle cx="482.52" cy="99.29" r="1.45" fill="#cc0a34"/>
<circle cx="484.25" cy="69.46" r="1.45" fill="#cc0a34"/>
<circle cx="483.63" cy="71.17" r="1.45" fill="#cc0a34"/>
<circle cx="482.42" cy="93.20" r="1.45" fill="#cc0a34"/>
<circle cx="485.18" cy="94.90" r="1.45" fill="#cc0a34"/>
<circle cx="485.15" cy="66.27" r="1.45" fill="#cc0a34"/>
<circle cx="485.52" cy="95.77" r="1.45" fill="#cc0a34"/>
<circle cx="484.98" cy="82.74" r="1.45" fill="#cc0a34"/>
<circle cx="482.55" cy="95.38" r="1.45" fill="#cc0a34"/>
<circle cx="484.66" cy="102.46" r="1.45" fill="#cc0a34"/>
<circle cx="484.61" cy="82.25" r="1.45" fill="#cc0a34"/>
<circle cx="482.99" cy="97.09" r="1.45" fill="#cc0a34"/>
<circle cx="486.31" cy="90.98" r="1.45" fill="#cc0a34"/>
<circle cx="483.77" cy="65.65" r="1.45" fill="#cc0a34"/>
<circle cx="486.55" cy="100.50" r="1.45" fill="#cc0a34"/>
<circle cx="483.71" cy="92.06" r="1.45" fill="#cc0a34"/>
<circle cx="484.45" cy="84.18" r="1.45" fill="#cc0a34"/>
<circle cx="484.74" cy="85.67" r="1.45" fill="#cc0a34"/>
<circle cx="485.80" cy="92.98" r="1.45" fill="#cc0a34"/>
<circle cx="484.20" cy="95.69" r="1.45" fill="#cc0a34"/>
<circle cx="484.19" cy="73.20" r="1.45" fill="#cc0a34"/>
<circle cx="484.46" cy="100.64" r="1.45" fill="#cc0a34"/>
<circle cx="486.34" cy="102.38" r="1.45" fill="#cc0a34"/>
<circle cx="484.81" cy="70.69" r="1.45" fill="#cc0a34"/>
<circle cx="484.00" cy="94.00" r="1.45" fill="#cc0a34"/>
<circle cx="484.41" cy="78.84" r="1.45" fill="#cc0a34"/>
<circle cx="484.81" cy="63.40" r="1.45" fill="#cc0a34"/>
<circle cx="484.4" cy="56.98" r="1.5" fill="#cc0a34"/>
<circle cx="484.4" cy="58.80" r="1.5" fill="#cc0a34"/>
<circle cx="484.4" cy="38.78" r="1.5" fill="#cc0a34"/>
<circle cx="484.4" cy="36.70" r="1.5" fill="#cc0a34"/>
<circle cx="484.4" cy="21.10" r="1.5" fill="#cc0a34"/>
<text x="277.50" y="156.00" font-size="11.4" fill="#111" font-weight="bold" stroke="#111" stroke-width="0.55">C</text>
<text x="366.70" y="153.50" font-size="8.8" textLength="77.9" lengthAdjust="spacingAndGlyphs">BM frequency of NK</text>
<line x1="382.70" y1="161.50" x2="388.70" y2="161.50" stroke="#1f4f7d" stroke-width="1.2"/>
<line x1="385.70" y1="160.00" x2="385.70" y2="163.00" stroke="#1f4f7d" stroke-width="0.8"/>
<text x="390.80" y="163.70" font-size="6.8">low</text>
<line x1="407.00" y1="161.50" x2="413.00" y2="161.50" stroke="#b8183a" stroke-width="1.2"/>
<line x1="410.00" y1="160.00" x2="410.00" y2="163.00" stroke="#b8183a" stroke-width="0.8"/>
<text x="416.70" y="163.70" font-size="6.8">high</text>
<line x1="308.50" y1="168.30" x2="308.50" y2="250.90" stroke="#1a1a1a" stroke-width="1.1"/>
<line x1="308.00" y1="250.40" x2="503.40" y2="250.40" stroke="#1a1a1a" stroke-width="1.1"/>
<line x1="305.50" y1="172.20" x2="308.50" y2="172.20" stroke="#222" stroke-width="0.9"/>
<text x="302.70" y="174.50" font-size="6.6" text-anchor="end" textLength="13.2" lengthAdjust="spacingAndGlyphs">1.00</text>
<line x1="305.50" y1="191.00" x2="308.50" y2="191.00" stroke="#222" stroke-width="0.9"/>
<text x="302.70" y="193.30" font-size="6.6" text-anchor="end" textLength="13.2" lengthAdjust="spacingAndGlyphs">0.75</text>
<line x1="305.50" y1="209.80" x2="308.50" y2="209.80" stroke="#222" stroke-width="0.9"/>
<text x="302.70" y="212.10" font-size="6.6" text-anchor="end" textLength="13.2" lengthAdjust="spacingAndGlyphs">0.50</text>
<line x1="305.50" y1="228.60" x2="308.50" y2="228.60" stroke="#222" stroke-width="0.9"/>
<text x="302.70" y="230.90" font-size="6.6" text-anchor="end" textLength="13.2" lengthAdjust="spacingAndGlyphs">0.25</text>
<line x1="305.50" y1="247.40" x2="308.50" y2="247.40" stroke="#222" stroke-width="0.9"/>
<text x="302.70" y="249.70" font-size="6.6" text-anchor="end" textLength="13.2" lengthAdjust="spacingAndGlyphs">0.00</text>
<line x1="318.00" y1="250.40" x2="318.00" y2="252.90" stroke="#222" stroke-width="0.9"/>
<text x="318.00" y="262.20" font-size="6.4" text-anchor="middle" textLength="3.6" lengthAdjust="spacingAndGlyphs">0</text>
<line x1="376.60" y1="250.40" x2="376.60" y2="252.90" stroke="#222" stroke-width="0.9"/>
<text x="376.60" y="262.20" font-size="6.4" text-anchor="middle" textLength="14.2" lengthAdjust="spacingAndGlyphs">1000</text>
<line x1="435.20" y1="250.40" x2="435.20" y2="252.90" stroke="#222" stroke-width="0.9"/>
<text x="435.20" y="262.20" font-size="6.4" text-anchor="middle" textLength="14.2" lengthAdjust="spacingAndGlyphs">2000</text>
<line x1="493.80" y1="250.40" x2="493.80" y2="252.90" stroke="#222" stroke-width="0.9"/>
<text x="493.80" y="262.20" font-size="6.4" text-anchor="middle" textLength="14.2" lengthAdjust="spacingAndGlyphs">3000</text>
<text x="285.20" y="209.80" font-size="8.3" stroke="#2b2b2b" stroke-width="0.18" text-anchor="middle" textLength="59.2" lengthAdjust="spacingAndGlyphs" transform="rotate(-90 285.2 209.80)">Survival probability</text>
<text x="406.00" y="275.10" font-size="9" stroke="#2b2b2b" stroke-width="0.15" text-anchor="middle" textLength="15.3" lengthAdjust="spacingAndGlyphs">Time</text>
<path d="M317.70,172.30 H333.00 V173.20 H345.60 V174.60 H358.00 V175.60 H376.00 V176.40 H404.00 V178.00 H424.00 V180.50 H427.00 V181.50 H431.00 V183.70 H450.00 V186.20 H455.80 V189.00 H458.70 V191.00 H500.00 V191.00" fill="none" stroke="#1f4f7d" stroke-width="1.3"/>
<path d="M340.00,171.30 V175.10 M352.00,172.70 V176.50 M366.00,173.70 V177.50 M372.00,173.70 V177.50 M380.00,174.50 V178.30 M383.00,174.50 V178.30 M386.00,174.50 V178.30 M389.00,174.50 V178.30 M392.00,174.50 V178.30 M396.00,174.50 V178.30 M400.00,174.50 V178.30 M410.00,176.10 V179.90 M414.00,176.10 V179.90 M418.00,176.10 V179.90 M434.00,181.80 V185.60 M438.00,181.80 V185.60 M442.00,181.80 V185.60 M446.00,181.80 V185.60 M453.00,184.30 V188.10 M461.00,189.10 V192.90 M463.00,189.10 V192.90 M465.00,189.10 V192.90 M468.00,189.10 V192.90 M471.00,189.10 V192.90 M474.00,189.10 V192.90 M480.00,189.10 V192.90 M499.50,189.10 V192.90 " fill="none" stroke="#1f4f7d" stroke-width="1.0"/>
<path d="M317.70,172.30 H333.00 V173.00 H355.20 V173.50 H358.00 V174.60 H375.40 V177.50 H378.30 V180.00 H390.80 V183.00 H393.60 V185.00 H402.30 V189.00 H415.40 V190.50 H421.00 V193.00 H426.00 V196.00 H440.40 V198.00 H446.00 V200.00 H451.00 V202.70 H457.70 V205.80 H459.60 V207.30 H478.80 V207.30" fill="none" stroke="#b8183a" stroke-width="1.3"/>
<path d="M336.00,171.10 V174.90 M347.00,171.10 V174.90 M364.00,172.70 V176.50 M384.00,178.10 V181.90 M396.00,183.10 V186.90 M405.00,187.10 V190.90 M410.00,187.10 V190.90 M430.00,194.10 V197.90 M436.00,194.10 V197.90 M448.00,198.10 V201.90 M455.00,200.80 V204.60 M462.00,205.40 V209.20 M465.00,205.40 V209.20 M468.30,205.40 V209.20 M471.50,205.40 V209.20 M475.00,205.40 V209.20 M478.00,205.40 V209.20 " fill="none" stroke="#b8183a" stroke-width="1.0"/>
<text x="434.90" y="218.80" font-size="6.4" textLength="58.2" lengthAdjust="spacingAndGlyphs">Log-rank <tspan font-style="italic">P</tspan> = .006**</text>
<text x="323.80" y="235.20" font-size="6.5" textLength="33.3" lengthAdjust="spacingAndGlyphs">Cox model:</text>
<text x="370.10" y="235.20" font-size="6.5" text-anchor="middle">HR</text>
<text x="382.50" y="235.20" font-size="6.5" textLength="36.7" lengthAdjust="spacingAndGlyphs">Lower-Upper</text>
<text x="426.80" y="235.20" font-size="6.5" textLength="21.7" lengthAdjust="spacingAndGlyphs"><tspan font-style="italic">P</tspan>_value</text>
<text x="323.80" y="242.90" font-size="6.5" textLength="22.7" lengthAdjust="spacingAndGlyphs">NK high</text>
<text x="369.80" y="242.90" font-size="6.5" text-anchor="middle">2.28</text>
<text x="384.20" y="242.90" font-size="6.5" textLength="34.6" lengthAdjust="spacingAndGlyphs">(1.24 - 4.17)</text>
<text x="429.20" y="242.90" font-size="6.5" textLength="17.8" lengthAdjust="spacingAndGlyphs">.008**</text>
<text x="308.80" y="285.00" font-size="6.5" textLength="42.7" lengthAdjust="spacingAndGlyphs">Number at risk</text>
<text x="310.80" y="294.80" font-size="6.6" text-anchor="end" fill="#1f4f7d">low</text>
<text x="318.00" y="294.80" font-size="6.6" text-anchor="middle" fill="#1f4f7d">90</text>
<text x="376.60" y="294.80" font-size="6.6" text-anchor="middle" fill="#1f4f7d">84</text>
<text x="435.20" y="294.80" font-size="6.6" text-anchor="middle" fill="#1f4f7d">50</text>
<text x="493.80" y="294.80" font-size="6.6" text-anchor="middle" fill="#1f4f7d">1</text>
<text x="310.80" y="304.80" font-size="6.6" text-anchor="end" fill="#b8183a">high</text>
<text x="318.00" y="304.80" font-size="6.6" text-anchor="middle" fill="#b8183a">87</text>
<text x="376.60" y="304.80" font-size="6.6" text-anchor="middle" fill="#b8183a">76</text>
<text x="435.20" y="304.80" font-size="6.6" text-anchor="middle" fill="#b8183a">36</text>
<text x="493.80" y="304.80" font-size="6.6" text-anchor="middle" fill="#b8183a">0</text>
<text x="7.50" y="279.30" font-size="11.4" fill="#111" font-weight="bold" stroke="#111" stroke-width="0.55">D</text>
<text x="61.50" y="276.30" font-size="8.8" textLength="96.2" lengthAdjust="spacingAndGlyphs">CD3<tspan font-size="5.4" dy="-3.3">−</tspan><tspan dy="3.3">CD56</tspan><tspan font-size="5.4" dy="-3.3">+</tspan><tspan dy="3.3"> NK cell gate</tspan></text>
<text x="64.40" y="286.90" font-size="6.4" text-anchor="middle">HD</text>
<text x="155.45" y="286.90" font-size="6.6" text-anchor="middle">NDMM</text>
<rect x="32.7" y="291.5" width="64.3" height="64.3" fill="none" stroke="#c8c8c8" stroke-width="0.9"/>
<path d="M31.40,298.60 H33.30 M31.40,315.30 H33.30 M31.40,333.50 H33.30 M31.40,338.90 H33.30 M31.40,346.30 H33.30 M32.10,310.27 H33.00 M32.10,307.33 H33.00 M32.10,305.25 H33.00 M32.10,303.63 H33.00 M32.10,302.30 H33.00 M32.10,301.19 H33.00 M32.10,300.22 H33.00 M32.10,299.36 H33.00 M32.10,328.02 H33.00 M32.10,324.82 H33.00 M32.10,322.54 H33.00 M32.10,320.78 H33.00 M32.10,319.34 H33.00 M32.10,318.12 H33.00 M32.10,317.06 H33.00 M32.10,316.13 H33.00 M32.10,336.20 H33.00 M32.10,341.50 H33.00 M32.10,343.80 H33.00 " stroke="#333" stroke-width="0.7" fill="none"/>
<path d="M43.70,355.20 V357.10 M55.40,355.20 V357.10 M79.20,355.20 V357.10 M91.40,355.20 V357.10 M82.87,355.50 V356.40 M85.02,355.50 V356.40 M86.55,355.50 V356.40 M87.73,355.50 V356.40 M88.69,355.50 V356.40 M89.51,355.50 V356.40 M90.22,355.50 V356.40 M90.84,355.50 V356.40 M50.40,355.50 V356.40 M52.90,355.50 V356.40 M57.90,355.50 V356.40 M60.40,355.50 V356.40 M63.40,355.50 V356.40 M66.40,355.50 V356.40 M69.40,355.50 V356.40 " stroke="#333" stroke-width="0.7" fill="none"/>
<text x="25.70" y="300.60" font-size="6.3" text-anchor="end">10</text>
<text x="25.70" y="298.10" font-size="3.6">5</text>
<text x="25.70" y="317.30" font-size="6.3" text-anchor="end">10</text>
<text x="25.70" y="314.80" font-size="3.6">4</text>
<text x="25.70" y="335.60" font-size="6.3" text-anchor="end">10</text>
<text x="25.70" y="333.10" font-size="3.6">3</text>
<text x="27.90" y="341.30" font-size="6.3" text-anchor="end">0</text>
<text x="25.70" y="348.30" font-size="6.3" text-anchor="end">−10</text>
<text x="25.70" y="345.80" font-size="3.6">3</text>
<text x="55.40" y="365.60" font-size="6.3" text-anchor="middle">0</text>
<text x="78.00" y="365.60" font-size="6.3" text-anchor="middle">10</text>
<text x="81.50" y="363.10" font-size="3.6">4</text>
<text x="90.20" y="365.60" font-size="6.3" text-anchor="middle">10</text>
<text x="93.70" y="363.10" font-size="3.6">5</text>
<rect x="124.5" y="291.5" width="64.3" height="64.3" fill="none" stroke="#c8c8c8" stroke-width="0.9"/>
<path d="M123.20,298.60 H125.10 M123.20,315.30 H125.10 M123.20,333.50 H125.10 M123.20,338.90 H125.10 M123.20,346.30 H125.10 M123.90,310.27 H124.80 M123.90,307.33 H124.80 M123.90,305.25 H124.80 M123.90,303.63 H124.80 M123.90,302.30 H124.80 M123.90,301.19 H124.80 M123.90,300.22 H124.80 M123.90,299.36 H124.80 M123.90,328.02 H124.80 M123.90,324.82 H124.80 M123.90,322.54 H124.80 M123.90,320.78 H124.80 M123.90,319.34 H124.80 M123.90,318.12 H124.80 M123.90,317.06 H124.80 M123.90,316.13 H124.80 M123.90,336.20 H124.80 M123.90,341.50 H124.80 M123.90,343.80 H124.80 " stroke="#333" stroke-width="0.7" fill="none"/>
<path d="M135.50,355.20 V357.10 M147.20,355.20 V357.10 M171.00,355.20 V357.10 M183.20,355.20 V357.10 M174.67,355.50 V356.40 M176.82,355.50 V356.40 M178.35,355.50 V356.40 M179.53,355.50 V356.40 M180.49,355.50 V356.40 M181.31,355.50 V356.40 M182.02,355.50 V356.40 M182.64,355.50 V356.40 M142.20,355.50 V356.40 M144.70,355.50 V356.40 M149.70,355.50 V356.40 M152.20,355.50 V356.40 M155.20,355.50 V356.40 M158.20,355.50 V356.40 M161.20,355.50 V356.40 " stroke="#333" stroke-width="0.7" fill="none"/>
<text x="117.50" y="300.60" font-size="6.3" text-anchor="end">10</text>
<text x="117.50" y="298.10" font-size="3.6">5</text>
<text x="117.50" y="317.30" font-size="6.3" text-anchor="end">10</text>
<text x="117.50" y="314.80" font-size="3.6">4</text>
<text x="117.50" y="335.60" font-size="6.3" text-anchor="end">10</text>
<text x="117.50" y="333.10" font-size="3.6">3</text>
<text x="119.70" y="341.30" font-size="6.3" text-anchor="end">0</text>
<text x="117.50" y="348.30" font-size="6.3" text-anchor="end">−10</text>
<text x="117.50" y="345.80" font-size="3.6">3</text>
<text x="147.20" y="365.60" font-size="6.3" text-anchor="middle">0</text>
<text x="169.80" y="365.60" font-size="6.3" text-anchor="middle">10</text>
<text x="173.30" y="363.10" font-size="3.6">4</text>
<text x="182.00" y="365.60" font-size="6.3" text-anchor="middle">10</text>
<text x="185.50" y="363.10" font-size="3.6">5</text>
<path d="M77.50,305.40 C79.23,305.17 80.78,306.03 81.80,307.80 C82.82,309.57 83.32,312.97 83.60,316.00 C83.88,319.03 83.67,322.83 83.50,326.00 C83.33,329.17 83.27,332.45 82.60,335.00 C81.93,337.55 80.77,339.97 79.50,341.30 C78.23,342.63 76.75,342.78 75.00,343.00 C73.25,343.22 70.58,342.93 69.00,342.60 C67.42,342.27 66.57,342.10 65.50,341.00 C64.43,339.90 63.13,338.38 62.60,336.00 C62.07,333.62 62.30,330.03 62.30,326.70 C62.30,323.37 61.98,318.45 62.60,316.00 C63.22,313.55 64.53,313.13 66.00,312.00 C67.47,310.87 69.48,310.30 71.40,309.20 C73.32,308.10 75.77,305.63 77.50,305.40Z" fill="#e2e2e2" stroke="#8a8a8a" stroke-width="0.6"/>
<path d="M77.50,306.80 C79.03,306.63 80.35,307.63 81.20,309.50 C82.05,311.37 82.43,314.75 82.60,318.00 C82.77,321.25 82.53,325.83 82.20,329.00 C81.87,332.17 81.47,334.95 80.60,337.00 C79.73,339.05 78.52,340.60 77.00,341.30 C75.48,342.00 73.07,341.92 71.50,341.20 C69.93,340.48 68.38,339.53 67.60,337.00 C66.82,334.47 66.73,329.50 66.80,326.00 C66.87,322.50 67.13,318.58 68.00,316.00 C68.87,313.42 70.42,312.03 72.00,310.50 C73.58,308.97 75.97,306.97 77.50,306.80Z" fill="#a2a2a2" stroke="#6a6a6a" stroke-width="0.6"/>
<path d="M76.86,312.04 C77.96,311.92 78.91,312.64 79.52,313.98 C80.13,315.32 80.41,317.76 80.53,320.10 C80.65,322.44 80.48,325.74 80.24,328.02 C80.00,330.30 79.71,332.30 79.09,333.78 C78.46,335.26 77.59,336.37 76.50,336.88 C75.40,337.38 73.66,337.32 72.54,336.80 C71.41,336.29 70.29,335.60 69.73,333.78 C69.16,331.96 69.10,328.38 69.15,325.86 C69.20,323.34 69.39,320.52 70.02,318.66 C70.64,316.80 71.76,315.80 72.90,314.70 C74.04,313.60 75.75,312.16 76.86,312.04Z" fill="#bdbdbd" stroke="#8a8a8a" stroke-width="0.5"/>
<path d="M76.05,317.94 C76.69,317.87 77.25,318.29 77.60,319.07 C77.96,319.85 78.12,321.27 78.19,322.64 C78.26,324.00 78.16,325.93 78.02,327.26 C77.88,328.59 77.72,329.76 77.35,330.62 C76.99,331.48 76.48,332.13 75.84,332.43 C75.20,332.72 74.19,332.69 73.53,332.38 C72.87,332.08 72.22,331.68 71.89,330.62 C71.56,329.56 71.53,327.47 71.56,326.00 C71.58,324.53 71.70,322.88 72.06,321.80 C72.42,320.72 73.07,320.13 73.74,319.49 C74.41,318.85 75.41,318.01 76.05,317.94Z" fill="#d6d6d6" stroke="#a0a0a0" stroke-width="0.4"/>
<path d="M74.6,318 Q75.8,326 74.8,335" stroke="#f4f4f4" stroke-width="1.2" fill="none"/>
<path d="M56.00,331.50 C57.67,331.42 59.87,331.58 61.00,332.50 C62.13,333.42 62.72,335.42 62.80,337.00 C62.88,338.58 62.63,340.92 61.50,342.00 C60.37,343.08 57.83,343.45 56.00,343.50 C54.17,343.55 51.62,343.30 50.50,342.30 C49.38,341.30 49.22,339.05 49.30,337.50 C49.38,335.95 49.88,334.00 51.00,333.00 C52.12,332.00 54.33,331.58 56.00,331.50Z" fill="#dedede" stroke="#a0a0a0" stroke-width="0.6"/>
<path d="M56.00,332.82 C57.30,332.75 59.02,332.88 59.90,333.60 C60.78,334.32 61.24,335.88 61.30,337.11 C61.37,338.35 61.17,340.16 60.29,341.01 C59.41,341.86 57.43,342.14 56.00,342.18 C54.57,342.22 52.58,342.02 51.71,341.24 C50.84,340.46 50.71,338.71 50.77,337.50 C50.84,336.29 51.23,334.77 52.10,333.99 C52.97,333.21 54.70,332.88 56.00,332.82Z" fill="#bdbdbd" stroke="#8a8a8a" stroke-width="0.6"/>
<path d="M56.00,334.20 C56.92,334.15 58.13,334.25 58.75,334.75 C59.37,335.25 59.69,336.35 59.74,337.23 C59.79,338.10 59.65,339.38 59.02,339.98 C58.40,340.57 57.01,340.77 56.00,340.80 C54.99,340.83 53.59,340.69 52.98,340.14 C52.36,339.59 52.27,338.35 52.31,337.50 C52.36,336.65 52.64,335.57 53.25,335.02 C53.86,334.47 55.08,334.25 56.00,334.20Z" fill="#a0a0a0" stroke="#7a7a7a" stroke-width="0.6"/>
<path d="M56.00,335.70 C56.50,335.68 57.16,335.73 57.50,336.00 C57.84,336.27 58.02,336.88 58.04,337.35 C58.06,337.83 57.99,338.53 57.65,338.85 C57.31,339.18 56.55,339.29 56.00,339.30 C55.45,339.31 54.69,339.24 54.35,338.94 C54.02,338.64 53.97,337.97 53.99,337.50 C54.02,337.03 54.16,336.45 54.50,336.15 C54.84,335.85 55.50,335.72 56.00,335.70Z" fill="#d4d4d4" stroke="#b0b0b0" stroke-width="0.6"/>
<rect x="43.6" y="329.9" width="22.4" height="22.4" fill="none" stroke="#4a4a4a" stroke-width="0.8"/>
<text x="45.80" y="350.50" font-size="6.4" fill="#222">14.6</text>
<path d="M164.60,322.50 C166.02,321.92 167.68,323.25 169.00,324.50 C170.32,325.75 171.78,328.08 172.50,330.00 C173.22,331.92 173.47,334.08 173.30,336.00 C173.13,337.92 172.72,340.22 171.50,341.50 C170.28,342.78 167.92,343.40 166.00,343.70 C164.08,344.00 161.45,343.92 160.00,343.30 C158.55,342.68 157.72,341.55 157.30,340.00 C156.88,338.45 156.97,336.00 157.50,334.00 C158.03,332.00 159.32,329.92 160.50,328.00 C161.68,326.08 163.18,323.08 164.60,322.50Z" fill="#eeeeee" stroke="#999" stroke-width="0.6"/>
<path d="M164.78,325.20 C165.91,324.73 167.25,325.80 168.30,326.80 C169.35,327.80 170.53,329.67 171.10,331.20 C171.67,332.73 171.87,334.47 171.74,336.00 C171.61,337.53 171.27,339.37 170.30,340.40 C169.33,341.43 167.43,341.92 165.90,342.16 C164.37,342.40 162.26,342.33 161.10,341.84 C159.94,341.35 159.27,340.44 158.94,339.20 C158.61,337.96 158.67,336.00 159.10,334.40 C159.53,332.80 160.55,331.13 161.50,329.60 C162.45,328.07 163.65,325.67 164.78,325.20Z" fill="#c4c4c4" stroke="#888" stroke-width="0.6"/>
<path d="M164.94,327.63 C165.82,327.27 166.85,328.10 167.67,328.87 C168.49,329.64 169.40,331.09 169.84,332.28 C170.28,333.47 170.44,334.81 170.34,336.00 C170.23,337.19 169.97,338.61 169.22,339.41 C168.47,340.21 167.00,340.59 165.81,340.77 C164.62,340.96 162.99,340.91 162.09,340.53 C161.19,340.14 160.67,339.44 160.42,338.48 C160.16,337.52 160.21,336.00 160.54,334.76 C160.87,333.52 161.67,332.23 162.40,331.04 C163.13,329.85 164.06,327.99 164.94,327.63Z" fill="#8e8e8e" stroke="#555" stroke-width="0.6"/>
<path d="M165.12,330.33 C165.72,330.08 166.42,330.64 166.97,331.17 C167.52,331.70 168.14,332.68 168.44,333.48 C168.74,334.29 168.85,335.19 168.78,336.00 C168.71,336.81 168.53,337.77 168.02,338.31 C167.51,338.85 166.52,339.11 165.71,339.23 C164.91,339.36 163.80,339.33 163.19,339.07 C162.58,338.81 162.23,338.33 162.06,337.68 C161.88,337.03 161.92,336.00 162.14,335.16 C162.36,334.32 162.90,333.44 163.40,332.64 C163.90,331.83 164.53,330.57 165.12,330.33Z" fill="#aaaaaa" stroke="#777" stroke-width="0.6"/>
<path d="M165.30,333.03 C165.61,332.90 165.98,333.20 166.27,333.47 C166.56,333.75 166.88,334.26 167.04,334.68 C167.20,335.10 167.25,335.58 167.22,336.00 C167.18,336.42 167.09,336.93 166.82,337.21 C166.55,337.49 166.03,337.63 165.61,337.69 C165.19,337.76 164.61,337.74 164.29,337.61 C163.97,337.47 163.79,337.22 163.70,336.88 C163.60,336.54 163.62,336.00 163.74,335.56 C163.86,335.12 164.14,334.66 164.40,334.24 C164.66,333.82 164.99,333.16 165.30,333.03Z" fill="#dddddd" stroke="#aaa" stroke-width="0.6"/>
<path d="M147.30,331.60 C149.38,331.43 151.35,331.43 153.00,332.00 C154.65,332.57 156.47,333.75 157.20,335.00 C157.93,336.25 158.10,338.13 157.40,339.50 C156.70,340.87 154.68,342.53 153.00,343.20 C151.32,343.87 149.30,343.53 147.30,343.50 C145.30,343.47 142.37,343.92 141.00,343.00 C139.63,342.08 139.18,339.67 139.10,338.00 C139.02,336.33 139.13,334.07 140.50,333.00 C141.87,331.93 145.22,331.77 147.30,331.60Z" fill="#cfcfcf" stroke="#888" stroke-width="0.6"/>
<path d="M147.39,332.68 C149.10,332.54 150.71,332.54 152.06,333.01 C153.42,333.47 154.91,334.44 155.51,335.47 C156.11,336.49 156.25,338.04 155.67,339.16 C155.10,340.28 153.44,341.65 152.06,342.19 C150.68,342.74 149.03,342.47 147.39,342.44 C145.75,342.41 143.34,342.78 142.22,342.03 C141.10,341.28 140.73,339.29 140.67,337.93 C140.60,336.56 140.69,334.70 141.81,333.83 C142.93,332.95 145.68,332.82 147.39,332.68Z" fill="#8a8a8a" stroke="#555" stroke-width="0.6"/>
<path d="M147.49,333.88 C148.78,333.78 150.00,333.78 151.02,334.13 C152.05,334.48 153.17,335.21 153.63,335.99 C154.08,336.76 154.19,337.93 153.75,338.78 C153.32,339.63 152.07,340.66 151.02,341.07 C149.98,341.49 148.73,341.28 147.49,341.26 C146.25,341.24 144.43,341.52 143.58,340.95 C142.74,340.38 142.46,338.88 142.41,337.85 C142.35,336.81 142.43,335.41 143.27,334.75 C144.12,334.09 146.20,333.98 147.49,333.88Z" fill="#3a3a3a" stroke="#222" stroke-width="0.6"/>
<path d="M147.59,335.08 C148.47,335.01 149.29,335.01 149.98,335.25 C150.68,335.49 151.44,335.98 151.75,336.51 C152.06,337.03 152.13,337.82 151.83,338.40 C151.54,338.97 150.69,339.67 149.98,339.95 C149.28,340.23 148.43,340.09 147.59,340.08 C146.75,340.06 145.52,340.25 144.94,339.87 C144.37,339.48 144.18,338.47 144.15,337.77 C144.11,337.07 144.16,336.12 144.73,335.67 C145.31,335.22 146.72,335.15 147.59,335.08Z" fill="#777" stroke="#555" stroke-width="0.6"/>
<path d="M147.69,336.28 C148.15,336.24 148.58,336.24 148.94,336.37 C149.31,336.49 149.71,336.75 149.87,337.03 C150.03,337.30 150.07,337.72 149.91,338.02 C149.76,338.32 149.31,338.69 148.94,338.83 C148.57,338.98 148.13,338.91 147.69,338.90 C147.25,338.89 146.60,338.99 146.30,338.79 C146.00,338.59 145.90,338.05 145.89,337.69 C145.87,337.32 145.89,336.82 146.19,336.59 C146.49,336.35 147.23,336.32 147.69,336.28Z" fill="#d5d5d5" stroke="#bbb" stroke-width="0.6"/>
<rect x="135.4" y="329.9" width="22.4" height="22.4" fill="none" stroke="#4a4a4a" stroke-width="0.8"/>
<text x="137.20" y="350.50" font-size="6.4" fill="#222">45.5</text>
<path d="M10.6,374.6 V349 M10.6,374.6 H39.5" fill="none" stroke="#222" stroke-width="0.9"/>
<path d="M10.6,346 L8.6,350 L12.6,350 Z M42.3,374.6 L38.3,372.6 L38.3,376.6 Z" fill="#222"/>
<text x="14.30" y="332.80" font-size="8.7" stroke="#2b2b2b" stroke-width="0.18" text-anchor="middle" textLength="16.2" lengthAdjust="spacingAndGlyphs" transform="rotate(-90 14.3 332.8)">CD16</text>
<text x="46.40" y="377.40" font-size="8.6" stroke="#2b2b2b" stroke-width="0.18" textLength="20.4" lengthAdjust="spacingAndGlyphs">CD226</text>
<line x1="233.30" y1="285.00" x2="233.30" y2="372.60" stroke="#222" stroke-width="0.9"/>
<line x1="230.70" y1="372.60" x2="261.60" y2="372.60" stroke="#222" stroke-width="0.9"/>
<line x1="230.80" y1="372.60" x2="233.30" y2="372.60" stroke="#222" stroke-width="0.9"/>
<text x="227.10" y="374.70" font-size="6.4" text-anchor="end">0</text>
<line x1="230.80" y1="355.45" x2="233.30" y2="355.45" stroke="#222" stroke-width="0.9"/>
<text x="227.10" y="357.55" font-size="6.4" text-anchor="end">20</text>
<line x1="230.80" y1="338.30" x2="233.30" y2="338.30" stroke="#222" stroke-width="0.9"/>
<text x="227.10" y="340.40" font-size="6.4" text-anchor="end">40</text>
<line x1="230.80" y1="321.15" x2="233.30" y2="321.15" stroke="#222" stroke-width="0.9"/>
<text x="227.10" y="323.25" font-size="6.4" text-anchor="end">60</text>
<line x1="230.80" y1="304.00" x2="233.30" y2="304.00" stroke="#222" stroke-width="0.9"/>
<text x="227.10" y="306.10" font-size="6.4" text-anchor="end">80</text>
<line x1="230.80" y1="286.85" x2="233.30" y2="286.85" stroke="#222" stroke-width="0.9"/>
<text x="227.10" y="288.95" font-size="6.4" text-anchor="end">100</text>
<line x1="241.40" y1="372.60" x2="241.40" y2="375.00" stroke="#222" stroke-width="0.9"/>
<line x1="253.80" y1="372.60" x2="253.80" y2="375.00" stroke="#222" stroke-width="0.9"/>
<text x="241.50" y="384.20" font-size="6.6" text-anchor="middle">HD</text>
<text x="253.90" y="384.20" font-size="6.6" text-anchor="middle">MM</text>
<text x="212.00" y="328.50" font-size="8.3" stroke="#2b2b2b" stroke-width="0.18" text-anchor="middle" textLength="86" lengthAdjust="spacingAndGlyphs" transform="rotate(-90 211.6 328.2)">CD16-CD226<tspan font-size="5.0" dy="-3.4">Low</tspan><tspan dy="3.4"> NK cells (%)</tspan></text>
<rect x="237.4" y="357.17" width="8.5" height="15.43" fill="#fff" stroke="#1f2f50" stroke-width="0.7"/>
<circle cx="241.50" cy="338.30" r="1.4" fill="#1c4f8a"/>
<circle cx="241.84" cy="345.16" r="1.4" fill="#1c4f8a"/>
<circle cx="241.74" cy="346.88" r="1.4" fill="#1c4f8a"/>
<circle cx="241.46" cy="349.45" r="1.4" fill="#1c4f8a"/>
<circle cx="240.99" cy="351.16" r="1.4" fill="#1c4f8a"/>
<circle cx="242.03" cy="352.02" r="1.4" fill="#1c4f8a"/>
<circle cx="242.05" cy="352.88" r="1.4" fill="#1c4f8a"/>
<circle cx="241.52" cy="353.74" r="1.4" fill="#1c4f8a"/>
<circle cx="241.52" cy="354.59" r="1.4" fill="#1c4f8a"/>
<circle cx="240.66" cy="355.45" r="1.4" fill="#1c4f8a"/>
<circle cx="239.91" cy="356.31" r="1.4" fill="#1c4f8a"/>
<circle cx="241.09" cy="357.17" r="1.4" fill="#1c4f8a"/>
<circle cx="241.77" cy="357.17" r="1.4" fill="#1c4f8a"/>
<circle cx="240.12" cy="358.02" r="1.4" fill="#1c4f8a"/>
<circle cx="242.44" cy="358.02" r="1.4" fill="#1c4f8a"/>
<circle cx="240.64" cy="358.88" r="1.4" fill="#1c4f8a"/>
<circle cx="240.64" cy="359.74" r="1.4" fill="#1c4f8a"/>
<circle cx="240.04" cy="359.74" r="1.4" fill="#1c4f8a"/>
<circle cx="243.09" cy="360.60" r="1.4" fill="#1c4f8a"/>
<circle cx="242.26" cy="360.60" r="1.4" fill="#1c4f8a"/>
<circle cx="242.70" cy="361.45" r="1.4" fill="#1c4f8a"/>
<circle cx="241.87" cy="361.45" r="1.4" fill="#1c4f8a"/>
<circle cx="240.01" cy="362.31" r="1.4" fill="#1c4f8a"/>
<circle cx="240.95" cy="362.31" r="1.4" fill="#1c4f8a"/>
<circle cx="241.49" cy="363.17" r="1.4" fill="#1c4f8a"/>
<circle cx="240.27" cy="363.17" r="1.4" fill="#1c4f8a"/>
<circle cx="242.95" cy="364.03" r="1.4" fill="#1c4f8a"/>
<circle cx="241.08" cy="364.03" r="1.4" fill="#1c4f8a"/>
<circle cx="240.40" cy="364.88" r="1.4" fill="#1c4f8a"/>
<circle cx="242.52" cy="364.88" r="1.4" fill="#1c4f8a"/>
<circle cx="240.30" cy="365.74" r="1.4" fill="#1c4f8a"/>
<circle cx="242.87" cy="365.74" r="1.4" fill="#1c4f8a"/>
<circle cx="241.35" cy="366.60" r="1.4" fill="#1c4f8a"/>
<circle cx="241.67" cy="367.46" r="1.4" fill="#1c4f8a"/>
<circle cx="241.00" cy="368.31" r="1.4" fill="#1c4f8a"/>
<rect x="249.9" y="347.30" width="8.4" height="25.30" fill="#38a8e2" stroke="#1d3c5c" stroke-width="0.4"/>
<circle cx="251.74" cy="343.38" r="1.3" fill="#c8102e"/>
<circle cx="256.71" cy="347.16" r="1.3" fill="#c8102e"/>
<circle cx="255.74" cy="341.82" r="1.3" fill="#c8102e"/>
<circle cx="257.04" cy="342.53" r="1.3" fill="#c8102e"/>
<circle cx="255.44" cy="339.35" r="1.3" fill="#c8102e"/>
<circle cx="254.19" cy="327.56" r="1.3" fill="#c8102e"/>
<circle cx="252.48" cy="328.45" r="1.3" fill="#c8102e"/>
<circle cx="255.60" cy="335.30" r="1.3" fill="#c8102e"/>
<circle cx="257.06" cy="346.18" r="1.3" fill="#c8102e"/>
<circle cx="253.64" cy="324.19" r="1.3" fill="#c8102e"/>
<circle cx="253.62" cy="338.30" r="1.3" fill="#c8102e"/>
<circle cx="256.72" cy="337.74" r="1.3" fill="#c8102e"/>
<circle cx="250.55" cy="344.35" r="1.3" fill="#c8102e"/>
<circle cx="255.51" cy="345.64" r="1.3" fill="#c8102e"/>
<circle cx="253.89" cy="321.34" r="1.3" fill="#c8102e"/>
<circle cx="254.16" cy="334.88" r="1.3" fill="#c8102e"/>
<circle cx="252.14" cy="340.78" r="1.3" fill="#c8102e"/>
<circle cx="254.15" cy="331.71" r="1.3" fill="#c8102e"/>
<circle cx="252.51" cy="331.34" r="1.3" fill="#c8102e"/>
<circle cx="252.85" cy="343.57" r="1.3" fill="#c8102e"/>
<circle cx="252.98" cy="339.02" r="1.3" fill="#c8102e"/>
<circle cx="253.03" cy="332.03" r="1.3" fill="#c8102e"/>
<circle cx="250.73" cy="345.37" r="1.3" fill="#c8102e"/>
<circle cx="254.81" cy="326.18" r="1.3" fill="#c8102e"/>
<circle cx="255.20" cy="344.46" r="1.3" fill="#c8102e"/>
<circle cx="255.52" cy="329.90" r="1.3" fill="#c8102e"/>
<circle cx="253.67" cy="322.28" r="1.3" fill="#c8102e"/>
<circle cx="254.95" cy="321.44" r="1.3" fill="#c8102e"/>
<circle cx="256.45" cy="342.34" r="1.3" fill="#c8102e"/>
<circle cx="253.26" cy="334.90" r="1.3" fill="#c8102e"/>
<circle cx="256.34" cy="341.48" r="1.3" fill="#c8102e"/>
<circle cx="250.90" cy="343.78" r="1.3" fill="#c8102e"/>
<circle cx="255.60" cy="340.22" r="1.3" fill="#c8102e"/>
<circle cx="255.64" cy="335.11" r="1.3" fill="#c8102e"/>
<circle cx="252.06" cy="346.75" r="1.3" fill="#c8102e"/>
<circle cx="253.40" cy="340.33" r="1.3" fill="#c8102e"/>
<circle cx="250.66" cy="346.48" r="1.3" fill="#c8102e"/>
<circle cx="256.28" cy="339.03" r="1.3" fill="#c8102e"/>
<circle cx="254.47" cy="321.60" r="1.3" fill="#c8102e"/>
<circle cx="252.62" cy="335.22" r="1.3" fill="#c8102e"/>
<circle cx="254.05" cy="338.71" r="1.3" fill="#c8102e"/>
<circle cx="252.13" cy="328.48" r="1.3" fill="#c8102e"/>
<circle cx="256.16" cy="342.43" r="1.3" fill="#c8102e"/>
<circle cx="255.19" cy="326.68" r="1.3" fill="#c8102e"/>
<circle cx="253.41" cy="342.23" r="1.3" fill="#c8102e"/>
<circle cx="255.51" cy="332.46" r="1.3" fill="#c8102e"/>
<circle cx="254.11" cy="339.84" r="1.3" fill="#c8102e"/>
<circle cx="255.60" cy="340.71" r="1.3" fill="#c8102e"/>
<circle cx="255.36" cy="348.06" r="1.3" fill="#c8102e"/>
<circle cx="252.72" cy="322.39" r="1.3" fill="#c8102e"/>
<circle cx="254.55" cy="332.13" r="1.3" fill="#c8102e"/>
<circle cx="254.16" cy="325.16" r="1.3" fill="#c8102e"/>
<circle cx="253.21" cy="345.62" r="1.3" fill="#c8102e"/>
<circle cx="254.90" cy="322.27" r="1.3" fill="#c8102e"/>
<circle cx="251.01" cy="344.55" r="1.3" fill="#c8102e"/>
<circle cx="250.41" cy="345.62" r="1.3" fill="#c8102e"/>
<circle cx="251.40" cy="343.75" r="1.3" fill="#c8102e"/>
<circle cx="254.36" cy="324.73" r="1.3" fill="#c8102e"/>
<circle cx="254.18" cy="344.74" r="1.3" fill="#c8102e"/>
<circle cx="253.86" cy="339.40" r="1.3" fill="#c8102e"/>
<circle cx="251.42" cy="346.00" r="1.3" fill="#c8102e"/>
<circle cx="253.06" cy="343.19" r="1.3" fill="#c8102e"/>
<circle cx="254.09" cy="328.98" r="1.3" fill="#c8102e"/>
<circle cx="255.51" cy="346.91" r="1.3" fill="#c8102e"/>
<circle cx="255.57" cy="339.54" r="1.3" fill="#c8102e"/>
<circle cx="252.22" cy="326.80" r="1.3" fill="#c8102e"/>
<circle cx="251.60" cy="335.63" r="1.3" fill="#c8102e"/>
<circle cx="252.74" cy="327.53" r="1.3" fill="#c8102e"/>
<circle cx="252.31" cy="341.15" r="1.3" fill="#c8102e"/>
<circle cx="253.17" cy="329.34" r="1.3" fill="#c8102e"/>
<circle cx="253.05" cy="347.03" r="1.3" fill="#c8102e"/>
<circle cx="256.36" cy="339.80" r="1.3" fill="#c8102e"/>
<circle cx="253.92" cy="345.25" r="1.3" fill="#c8102e"/>
<circle cx="256.04" cy="333.32" r="1.3" fill="#c8102e"/>
<circle cx="254.64" cy="345.50" r="1.3" fill="#c8102e"/>
<circle cx="255.07" cy="334.43" r="1.3" fill="#c8102e"/>
<circle cx="252.78" cy="338.62" r="1.3" fill="#c8102e"/>
<circle cx="254.00" cy="329.27" r="1.3" fill="#c8102e"/>
<circle cx="251.84" cy="333.02" r="1.3" fill="#c8102e"/>
<circle cx="255.46" cy="326.16" r="1.3" fill="#c8102e"/>
<circle cx="252.60" cy="344.66" r="1.3" fill="#c8102e"/>
<circle cx="253.01" cy="321.33" r="1.3" fill="#c8102e"/>
<circle cx="250.72" cy="346.11" r="1.3" fill="#c8102e"/>
<circle cx="254.75" cy="326.17" r="1.3" fill="#c8102e"/>
<circle cx="254.75" cy="343.74" r="1.3" fill="#c8102e"/>
<circle cx="255.03" cy="347.63" r="1.3" fill="#c8102e"/>
<circle cx="253.99" cy="336.21" r="1.3" fill="#c8102e"/>
<circle cx="253.34" cy="337.64" r="1.3" fill="#c8102e"/>
<circle cx="250.55" cy="345.94" r="1.3" fill="#c8102e"/>
<circle cx="252.53" cy="336.44" r="1.3" fill="#c8102e"/>
<circle cx="255.14" cy="329.14" r="1.3" fill="#c8102e"/>
<circle cx="253.73" cy="328.61" r="1.3" fill="#c8102e"/>
<circle cx="253.05" cy="345.83" r="1.3" fill="#c8102e"/>
<circle cx="254.58" cy="335.01" r="1.3" fill="#c8102e"/>
<circle cx="252.89" cy="322.15" r="1.3" fill="#c8102e"/>
<circle cx="253.86" cy="335.20" r="1.3" fill="#c8102e"/>
<circle cx="256.40" cy="341.09" r="1.3" fill="#c8102e"/>
<circle cx="254.34" cy="327.11" r="1.3" fill="#c8102e"/>
<circle cx="254.50" cy="327.67" r="1.3" fill="#c8102e"/>
<circle cx="254.50" cy="324.96" r="1.3" fill="#c8102e"/>
<circle cx="252.25" cy="341.43" r="1.3" fill="#c8102e"/>
<circle cx="253.59" cy="323.40" r="1.3" fill="#c8102e"/>
<circle cx="255.33" cy="331.56" r="1.3" fill="#c8102e"/>
<circle cx="255.09" cy="322.13" r="1.3" fill="#c8102e"/>
<circle cx="252.42" cy="348.10" r="1.3" fill="#c8102e"/>
<circle cx="253.23" cy="339.74" r="1.3" fill="#c8102e"/>
<circle cx="254.28" cy="344.23" r="1.3" fill="#c8102e"/>
<circle cx="252.43" cy="346.01" r="1.3" fill="#c8102e"/>
<circle cx="255.34" cy="338.86" r="1.3" fill="#c8102e"/>
<circle cx="251.84" cy="335.67" r="1.3" fill="#c8102e"/>
<circle cx="254.40" cy="322.34" r="1.3" fill="#c8102e"/>
<circle cx="252.79" cy="342.60" r="1.3" fill="#c8102e"/>
<circle cx="255.09" cy="341.83" r="1.3" fill="#c8102e"/>
<circle cx="256.79" cy="341.11" r="1.3" fill="#c8102e"/>
<circle cx="252.41" cy="339.46" r="1.3" fill="#c8102e"/>
<circle cx="252.83" cy="325.33" r="1.3" fill="#c8102e"/>
<circle cx="251.96" cy="341.44" r="1.3" fill="#c8102e"/>
<circle cx="252.90" cy="332.01" r="1.3" fill="#c8102e"/>
<circle cx="256.43" cy="337.92" r="1.3" fill="#c8102e"/>
<circle cx="253.57" cy="335.55" r="1.3" fill="#c8102e"/>
<circle cx="252.45" cy="342.08" r="1.3" fill="#c8102e"/>
<circle cx="253.10" cy="343.45" r="1.3" fill="#c8102e"/>
<circle cx="251.92" cy="340.80" r="1.3" fill="#c8102e"/>
<circle cx="252.76" cy="322.21" r="1.3" fill="#c8102e"/>
<circle cx="256.60" cy="340.17" r="1.3" fill="#c8102e"/>
<circle cx="252.03" cy="329.13" r="1.3" fill="#c8102e"/>
<circle cx="251.57" cy="334.62" r="1.3" fill="#c8102e"/>
<circle cx="254.79" cy="331.74" r="1.3" fill="#c8102e"/>
<circle cx="250.26" cy="345.79" r="1.3" fill="#c8102e"/>
<circle cx="251.95" cy="333.46" r="1.3" fill="#c8102e"/>
<circle cx="253.62" cy="339.82" r="1.3" fill="#c8102e"/>
<circle cx="253.53" cy="324.00" r="1.3" fill="#c8102e"/>
<circle cx="256.12" cy="346.83" r="1.3" fill="#c8102e"/>
<circle cx="253.99" cy="325.95" r="1.3" fill="#c8102e"/>
<circle cx="251.52" cy="346.83" r="1.3" fill="#c8102e"/>
<circle cx="254.19" cy="337.28" r="1.3" fill="#c8102e"/>
<circle cx="256.14" cy="345.94" r="1.3" fill="#c8102e"/>
<circle cx="255.22" cy="325.38" r="1.3" fill="#c8102e"/>
<circle cx="252.51" cy="324.30" r="1.3" fill="#c8102e"/>
<circle cx="251.97" cy="332.44" r="1.3" fill="#c8102e"/>
<circle cx="255.39" cy="339.29" r="1.3" fill="#c8102e"/>
<circle cx="252.78" cy="327.65" r="1.3" fill="#c8102e"/>
<circle cx="256.28" cy="346.55" r="1.3" fill="#c8102e"/>
<circle cx="254.44" cy="331.78" r="1.3" fill="#c8102e"/>
<circle cx="255.98" cy="343.52" r="1.3" fill="#c8102e"/>
<circle cx="252.52" cy="339.03" r="1.3" fill="#c8102e"/>
<circle cx="252.71" cy="338.62" r="1.3" fill="#c8102e"/>
<circle cx="255.59" cy="331.22" r="1.3" fill="#c8102e"/>
<circle cx="250.55" cy="347.46" r="1.3" fill="#c8102e"/>
<circle cx="254.79" cy="334.34" r="1.3" fill="#c8102e"/>
<circle cx="252.33" cy="343.03" r="1.3" fill="#c8102e"/>
<circle cx="250.40" cy="346.57" r="1.3" fill="#c8102e"/>
<circle cx="255.14" cy="343.28" r="1.3" fill="#c8102e"/>
<circle cx="252.47" cy="330.52" r="1.3" fill="#c8102e"/>
<circle cx="257.05" cy="345.35" r="1.3" fill="#c8102e"/>
<circle cx="253.46" cy="333.61" r="1.3" fill="#c8102e"/>
<circle cx="255.37" cy="341.35" r="1.3" fill="#c8102e"/>
<circle cx="251.83" cy="333.99" r="1.3" fill="#c8102e"/>
<circle cx="252.98" cy="325.82" r="1.3" fill="#c8102e"/>
<circle cx="252.77" cy="347.07" r="1.3" fill="#c8102e"/>
<circle cx="254.77" cy="342.91" r="1.3" fill="#c8102e"/>
<circle cx="255.35" cy="343.46" r="1.3" fill="#c8102e"/>
<circle cx="252.18" cy="334.82" r="1.3" fill="#c8102e"/>
<circle cx="254.84" cy="325.18" r="1.3" fill="#c8102e"/>
<circle cx="254.98" cy="339.22" r="1.3" fill="#c8102e"/>
<circle cx="255.75" cy="342.29" r="1.3" fill="#c8102e"/>
<circle cx="253.99" cy="323.78" r="1.3" fill="#c8102e"/>
<circle cx="255.19" cy="323.62" r="1.3" fill="#c8102e"/>
<circle cx="257.03" cy="344.31" r="1.3" fill="#c8102e"/>
<circle cx="254.66" cy="322.86" r="1.3" fill="#c8102e"/>
<circle cx="253.31" cy="299.71" r="1.4" fill="#c8102e"/>
<circle cx="253.72" cy="308.29" r="1.4" fill="#c8102e"/>
<circle cx="254.04" cy="310.00" r="1.4" fill="#c8102e"/>
<circle cx="254.03" cy="311.72" r="1.4" fill="#c8102e"/>
<circle cx="254.21" cy="313.43" r="1.4" fill="#c8102e"/>
<circle cx="254.08" cy="316.00" r="1.4" fill="#c8102e"/>
<circle cx="253.49" cy="317.72" r="1.4" fill="#c8102e"/>
<circle cx="254.42" cy="319.44" r="1.4" fill="#c8102e"/>
<circle cx="256.42" cy="358.93" r="1.1" fill="#45b5ea"/>
<circle cx="257.19" cy="366.27" r="1.1" fill="#45b5ea"/>
<circle cx="255.72" cy="358.51" r="1.1" fill="#45b5ea"/>
<circle cx="256.43" cy="354.39" r="1.1" fill="#45b5ea"/>
<circle cx="251.15" cy="362.81" r="1.1" fill="#45b5ea"/>
<circle cx="251.78" cy="361.84" r="1.1" fill="#45b5ea"/>
<circle cx="255.98" cy="358.85" r="1.1" fill="#45b5ea"/>
<circle cx="251.46" cy="362.81" r="1.1" fill="#45b5ea"/>
<circle cx="253.39" cy="370.28" r="1.1" fill="#45b5ea"/>
<circle cx="250.77" cy="357.94" r="1.1" fill="#45b5ea"/>
<circle cx="251.99" cy="356.05" r="1.1" fill="#45b5ea"/>
<circle cx="256.72" cy="368.50" r="1.1" fill="#45b5ea"/>
<circle cx="256.51" cy="359.22" r="1.1" fill="#45b5ea"/>
<circle cx="251.41" cy="359.43" r="1.1" fill="#45b5ea"/>
<circle cx="253.40" cy="365.53" r="1.1" fill="#45b5ea"/>
<circle cx="255.69" cy="356.60" r="1.1" fill="#45b5ea"/>
<circle cx="254.90" cy="354.13" r="1.1" fill="#45b5ea"/>
<circle cx="253.44" cy="365.25" r="1.1" fill="#45b5ea"/>
<circle cx="253.83" cy="362.46" r="1.1" fill="#45b5ea"/>
<circle cx="254.15" cy="364.97" r="1.1" fill="#45b5ea"/>
<circle cx="250.83" cy="360.66" r="1.1" fill="#45b5ea"/>
<circle cx="254.47" cy="352.54" r="1.1" fill="#45b5ea"/>
<circle cx="255.46" cy="352.99" r="1.1" fill="#45b5ea"/>
<circle cx="257.16" cy="354.59" r="1.1" fill="#45b5ea"/>
<circle cx="253.20" cy="362.48" r="1.1" fill="#45b5ea"/>
<circle cx="254.98" cy="370.80" r="1.1" fill="#45b5ea"/>
<circle cx="254.40" cy="357.92" r="1.1" fill="#45b5ea"/>
<circle cx="251.90" cy="348.64" r="1.1" fill="#45b5ea"/>
<circle cx="255.45" cy="365.82" r="1.1" fill="#45b5ea"/>
<circle cx="253.79" cy="352.77" r="1.1" fill="#45b5ea"/>
<text x="277.50" y="332.00" font-size="11.4" fill="#111" font-weight="bold" stroke="#111" stroke-width="0.55">E</text>
<text x="341.50" y="328.80" font-size="8.8">NK frequency of CD16/CD226<tspan font-size="6.2" dy="-3.4">Low</tspan></text>
<line x1="382.60" y1="337.60" x2="388.60" y2="337.60" stroke="#1f4f7d" stroke-width="1.2"/>
<line x1="385.60" y1="336.10" x2="385.60" y2="339.10" stroke="#1f4f7d" stroke-width="0.8"/>
<text x="391.20" y="339.80" font-size="6.8">low</text>
<line x1="407.50" y1="337.60" x2="413.50" y2="337.60" stroke="#b8183a" stroke-width="1.2"/>
<line x1="410.50" y1="336.10" x2="410.50" y2="339.10" stroke="#b8183a" stroke-width="0.8"/>
<text x="417.20" y="339.80" font-size="6.8">high</text>
<line x1="308.50" y1="344.50" x2="308.50" y2="427.50" stroke="#1a1a1a" stroke-width="1.1"/>
<line x1="308.00" y1="427.00" x2="503.40" y2="427.00" stroke="#1a1a1a" stroke-width="1.1"/>
<line x1="305.50" y1="348.40" x2="308.50" y2="348.40" stroke="#222" stroke-width="0.9"/>
<text x="302.70" y="350.70" font-size="6.6" text-anchor="end" textLength="13.2" lengthAdjust="spacingAndGlyphs">1.00</text>
<line x1="305.50" y1="367.20" x2="308.50" y2="367.20" stroke="#222" stroke-width="0.9"/>
<text x="302.70" y="369.50" font-size="6.6" text-anchor="end" textLength="13.2" lengthAdjust="spacingAndGlyphs">0.75</text>
<line x1="305.50" y1="386.00" x2="308.50" y2="386.00" stroke="#222" stroke-width="0.9"/>
<text x="302.70" y="388.30" font-size="6.6" text-anchor="end" textLength="13.2" lengthAdjust="spacingAndGlyphs">0.50</text>
<line x1="305.50" y1="404.80" x2="308.50" y2="404.80" stroke="#222" stroke-width="0.9"/>
<text x="302.70" y="407.10" font-size="6.6" text-anchor="end" textLength="13.2" lengthAdjust="spacingAndGlyphs">0.25</text>
<line x1="305.50" y1="423.60" x2="308.50" y2="423.60" stroke="#222" stroke-width="0.9"/>
<text x="302.70" y="425.90" font-size="6.6" text-anchor="end" textLength="13.2" lengthAdjust="spacingAndGlyphs">0.00</text>
<line x1="318.00" y1="427.00" x2="318.00" y2="429.50" stroke="#222" stroke-width="0.9"/>
<text x="318.00" y="438.80" font-size="6.4" text-anchor="middle" textLength="3.6" lengthAdjust="spacingAndGlyphs">0</text>
<line x1="376.60" y1="427.00" x2="376.60" y2="429.50" stroke="#222" stroke-width="0.9"/>
<text x="376.60" y="438.80" font-size="6.4" text-anchor="middle" textLength="14.2" lengthAdjust="spacingAndGlyphs">1000</text>
<line x1="435.20" y1="427.00" x2="435.20" y2="429.50" stroke="#222" stroke-width="0.9"/>
<text x="435.20" y="438.80" font-size="6.4" text-anchor="middle" textLength="14.2" lengthAdjust="spacingAndGlyphs">2000</text>
<line x1="493.80" y1="427.00" x2="493.80" y2="429.50" stroke="#222" stroke-width="0.9"/>
<text x="493.80" y="438.80" font-size="6.4" text-anchor="middle" textLength="14.2" lengthAdjust="spacingAndGlyphs">3000</text>
<text x="285.20" y="386.00" font-size="8.3" stroke="#2b2b2b" stroke-width="0.18" text-anchor="middle" textLength="59.2" lengthAdjust="spacingAndGlyphs" transform="rotate(-90 285.2 386.00)">Survival probability</text>
<text x="406.00" y="451.30" font-size="9" stroke="#2b2b2b" stroke-width="0.15" text-anchor="middle" textLength="15.3" lengthAdjust="spacingAndGlyphs">Time</text>
<path d="M317.70,348.30 H333.00 V349.00 H358.00 V350.00 H373.50 V352.00 H376.30 V353.50 H392.70 V355.50 H395.60 V357.00 H417.30 V357.00 H423.00 V359.20 H428.80 V360.40 H440.40 V362.00 H446.20 V364.00 H451.00 V366.50 H500.00 V366.50" fill="none" stroke="#1f4f7d" stroke-width="1.3"/>
<path d="M345.00,347.10 V350.90 M366.00,348.10 V351.90 M383.00,351.60 V355.40 M387.00,351.60 V355.40 M399.00,355.10 V358.90 M404.00,355.10 V358.90 M407.00,355.10 V358.90 M410.00,355.10 V358.90 M414.00,355.10 V358.90 M427.00,357.30 V361.10 M431.00,358.50 V362.30 M434.00,358.50 V362.30 M437.00,358.50 V362.30 M444.00,360.10 V363.90 M448.00,362.10 V365.90 M456.00,364.60 V368.40 M459.00,364.60 V368.40 M462.00,364.60 V368.40 M465.00,364.60 V368.40 M468.00,364.60 V368.40 M471.00,364.60 V368.40 M474.00,364.60 V368.40 M477.00,364.60 V368.40 M499.50,364.60 V368.40 " fill="none" stroke="#1f4f7d" stroke-width="1.0"/>
<path d="M317.70,348.30 H331.00 V349.50 H341.70 V351.00 H356.00 V352.50 H375.40 V354.00 H396.50 V357.00 H401.30 V360.50 H402.90 V363.00 H409.60 V365.00 H415.40 V367.30 H421.00 V369.00 H425.00 V370.80 H428.80 V374.00 H444.20 V375.00 H452.00 V376.50 H455.80 V379.00 H457.70 V383.50 H460.60 V386.20 H480.80 V386.20" fill="none" stroke="#b8183a" stroke-width="1.3"/>
<path d="M344.00,349.10 V352.90 M365.00,350.60 V354.40 M385.00,352.10 V355.90 M389.00,352.10 V355.90 M392.00,352.10 V355.90 M395.00,352.10 V355.90 M406.00,361.10 V364.90 M418.00,365.40 V369.20 M433.00,372.10 V375.90 M437.00,372.10 V375.90 M441.00,372.10 V375.90 M447.00,373.10 V376.90 M464.00,384.30 V388.10 M468.00,384.30 V388.10 M472.00,384.30 V388.10 M476.00,384.30 V388.10 M480.00,384.30 V388.10 " fill="none" stroke="#b8183a" stroke-width="1.0"/>
<text x="315.40" y="410.40" font-size="6.5" textLength="34" lengthAdjust="spacingAndGlyphs">Cox model:</text>
<text x="390.70" y="410.40" font-size="6.5" text-anchor="middle">HR</text>
<text x="403.10" y="410.40" font-size="6.5" textLength="37.7" lengthAdjust="spacingAndGlyphs">Lower-Upper</text>
<text x="447.50" y="410.40" font-size="6.5" textLength="21.2" lengthAdjust="spacingAndGlyphs"><tspan font-style="italic">P</tspan>_value</text>
<text x="315.40" y="418.50" font-size="6.5" textLength="59.9" lengthAdjust="spacingAndGlyphs">CD16/CD226<tspan font-size="3.6" dy="-2.7" dx="0.4">Low</tspan><tspan dy="2.7"> high</tspan></text>
<text x="390.30" y="418.50" font-size="6.5" text-anchor="middle">2.07</text>
<text x="409.00" y="418.50" font-size="6.5" textLength="25.8" lengthAdjust="spacingAndGlyphs">(1.1- 3.7)</text>
<text x="450.30" y="418.50" font-size="6.5" textLength="14.8" lengthAdjust="spacingAndGlyphs">.017*</text>
<text x="308.80" y="462.10" font-size="6.5" textLength="42.7" lengthAdjust="spacingAndGlyphs">Number at risk</text>
<text x="310.80" y="471.90" font-size="6.6" text-anchor="end" fill="#1f4f7d">low</text>
<text x="318.00" y="471.90" font-size="6.6" text-anchor="middle" fill="#1f4f7d">90</text>
<text x="376.60" y="471.90" font-size="6.6" text-anchor="middle" fill="#1f4f7d">83</text>
<text x="435.20" y="471.90" font-size="6.6" text-anchor="middle" fill="#1f4f7d">50</text>
<text x="493.80" y="471.90" font-size="6.6" text-anchor="middle" fill="#1f4f7d">1</text>
<text x="310.80" y="481.90" font-size="6.6" text-anchor="end" fill="#b8183a">high</text>
<text x="318.00" y="481.90" font-size="6.6" text-anchor="middle" fill="#b8183a">87</text>
<text x="376.60" y="481.90" font-size="6.6" text-anchor="middle" fill="#b8183a">77</text>
<text x="435.20" y="481.90" font-size="6.6" text-anchor="middle" fill="#b8183a">36</text>
<text x="493.80" y="481.90" font-size="6.6" text-anchor="middle" fill="#b8183a">0</text>
<text x="7.50" y="411.30" font-size="11.4" fill="#111" font-weight="bold" stroke="#111" stroke-width="0.55">F</text>
<text x="72.90" y="408.50" font-size="8.8">NK frequency of CD16/CD226<tspan font-size="6.2" dy="-3.4">Low</tspan></text>
<line x1="93.70" y1="416.50" x2="99.70" y2="416.50" stroke="#1f4f7d" stroke-width="1.2"/>
<line x1="96.70" y1="415.00" x2="96.70" y2="418.00" stroke="#1f4f7d" stroke-width="0.8"/>
<text x="102.50" y="418.70" font-size="6.8">low</text>
<line x1="119.80" y1="416.50" x2="125.80" y2="416.50" stroke="#45ad45" stroke-width="1.2"/>
<line x1="122.80" y1="415.00" x2="122.80" y2="418.00" stroke="#45ad45" stroke-width="0.8"/>
<text x="128.70" y="418.70" font-size="6.8">medium</text>
<line x1="159.00" y1="416.50" x2="165.00" y2="416.50" stroke="#b8183a" stroke-width="1.2"/>
<line x1="162.00" y1="415.00" x2="162.00" y2="418.00" stroke="#b8183a" stroke-width="0.8"/>
<text x="167.70" y="418.70" font-size="6.8">high</text>
<line x1="38.60" y1="423.50" x2="38.60" y2="506.90" stroke="#1a1a1a" stroke-width="1.1"/>
<line x1="38.10" y1="506.40" x2="235.00" y2="506.40" stroke="#1a1a1a" stroke-width="1.1"/>
<line x1="35.60" y1="427.30" x2="38.60" y2="427.30" stroke="#222" stroke-width="0.9"/>
<text x="32.30" y="429.60" font-size="6.6" text-anchor="end" textLength="13.2" lengthAdjust="spacingAndGlyphs">1.00</text>
<line x1="35.60" y1="446.15" x2="38.60" y2="446.15" stroke="#222" stroke-width="0.9"/>
<text x="32.30" y="448.45" font-size="6.6" text-anchor="end" textLength="13.2" lengthAdjust="spacingAndGlyphs">0.75</text>
<line x1="35.60" y1="465.00" x2="38.60" y2="465.00" stroke="#222" stroke-width="0.9"/>
<text x="32.30" y="467.30" font-size="6.6" text-anchor="end" textLength="13.2" lengthAdjust="spacingAndGlyphs">0.50</text>
<line x1="35.60" y1="483.85" x2="38.60" y2="483.85" stroke="#222" stroke-width="0.9"/>
<text x="32.30" y="486.15" font-size="6.6" text-anchor="end" textLength="13.2" lengthAdjust="spacingAndGlyphs">0.25</text>
<line x1="35.60" y1="502.70" x2="38.60" y2="502.70" stroke="#222" stroke-width="0.9"/>
<text x="32.30" y="505.00" font-size="6.6" text-anchor="end" textLength="13.2" lengthAdjust="spacingAndGlyphs">0.00</text>
<line x1="47.20" y1="506.40" x2="47.20" y2="508.90" stroke="#222" stroke-width="0.9"/>
<text x="47.20" y="518.20" font-size="6.4" text-anchor="middle" textLength="3.6" lengthAdjust="spacingAndGlyphs">0</text>
<line x1="107.20" y1="506.40" x2="107.20" y2="508.90" stroke="#222" stroke-width="0.9"/>
<text x="107.20" y="518.20" font-size="6.4" text-anchor="middle" textLength="14.2" lengthAdjust="spacingAndGlyphs">1000</text>
<line x1="167.20" y1="506.40" x2="167.20" y2="508.90" stroke="#222" stroke-width="0.9"/>
<text x="167.20" y="518.20" font-size="6.4" text-anchor="middle" textLength="14.2" lengthAdjust="spacingAndGlyphs">2000</text>
<line x1="227.20" y1="506.40" x2="227.20" y2="508.90" stroke="#222" stroke-width="0.9"/>
<text x="227.20" y="518.20" font-size="6.4" text-anchor="middle" textLength="14.2" lengthAdjust="spacingAndGlyphs">3000</text>
<text x="15.20" y="465.00" font-size="8.3" stroke="#2b2b2b" stroke-width="0.18" text-anchor="middle" textLength="59.2" lengthAdjust="spacingAndGlyphs" transform="rotate(-90 15.2 465.00)">Survival probability</text>
<text x="137.20" y="530.20" font-size="9" stroke="#2b2b2b" stroke-width="0.15" text-anchor="middle" textLength="14.3" lengthAdjust="spacingAndGlyphs">Time</text>
<path d="M47.40,427.70 H62.80 V428.90 H76.30 V429.80 H87.70 V431.90 H107.30 V435.40 H120.80 V437.00 H136.50 V439.50 H150.00 V441.60 H157.00 V443.80 H161.50 V448.40 H173.80 V450.00 H183.00 V452.20 H186.50 V454.40 H191.20 V457.00 H215.40 V457.00" fill="none" stroke="#45ad45" stroke-width="1.3"/>
<path d="M95.00,430.00 V433.80 M112.00,433.50 V437.30 M118.00,433.50 V437.30 M124.00,435.10 V438.90 M128.00,435.10 V438.90 M133.00,435.10 V438.90 M137.00,437.60 V441.40 M141.00,437.60 V441.40 M145.00,437.60 V441.40 M149.00,437.60 V441.40 M153.00,439.70 V443.50 M158.00,441.90 V445.70 M166.00,446.50 V450.30 M170.00,446.50 V450.30 M174.00,448.10 V451.90 M178.00,448.10 V451.90 M181.00,448.10 V451.90 M186.00,450.30 V454.10 M193.00,455.10 V458.90 M196.00,455.10 V458.90 M199.00,455.10 V458.90 M202.00,455.10 V458.90 M205.00,455.10 V458.90 M208.00,455.10 V458.90 M211.00,455.10 V458.90 M214.50,455.10 V458.90 " fill="none" stroke="#45ad45" stroke-width="1.0"/>
<path d="M47.40,427.70 H61.50 V428.50 H87.70 V430.90 H105.40 V434.20 H119.20 V437.00 H125.60 V439.00 H129.20 V440.80 H133.60 V448.60 H140.50 V450.60 H146.50 V452.80 H152.30 V455.00 H156.80 V456.90 H178.50 V460.40 H182.00 V461.50 H190.00 V466.50 H192.30 V473.70 H209.50 V473.70" fill="none" stroke="#b8183a" stroke-width="1.3"/>
<path d="M93.00,429.00 V432.80 M112.00,432.30 V436.10 M137.00,446.70 V450.50 M144.00,448.70 V452.50 M150.00,450.90 V454.70 M163.00,455.00 V458.80 M175.00,455.00 V458.80 M187.00,459.60 V463.40 M197.00,471.80 V475.60 M200.00,471.80 V475.60 M203.00,471.80 V475.60 M206.00,471.80 V475.60 M209.00,471.80 V475.60 " fill="none" stroke="#b8183a" stroke-width="1.0"/>
<path d="M47.30,427.70 H105.40 V429.50 H178.50 V433.40 H232.70 V433.40" fill="none" stroke="#1f4f7d" stroke-width="1.3"/>
<path d="M109.20,427.60 V431.40 M114.00,427.60 V431.40 M115.20,427.60 V431.40 M122.50,427.60 V431.40 M123.70,427.60 V431.40 M130.30,427.60 V431.40 M132.30,427.60 V431.40 M136.90,427.60 V431.40 M146.90,427.60 V431.40 M155.40,427.60 V431.40 M156.90,427.60 V431.40 M160.00,427.60 V431.40 M162.30,427.60 V431.40 M175.00,427.60 V431.40 M176.50,427.60 V431.40 M185.00,431.50 V435.30 M187.00,431.50 V435.30 M189.00,431.50 V435.30 M191.00,431.50 V435.30 M193.00,431.50 V435.30 M195.00,431.50 V435.30 M198.00,431.50 V435.30 M201.00,431.50 V435.30 M232.50,431.50 V435.30 " fill="none" stroke="#1f4f7d" stroke-width="1.0"/>
<text x="62.10" y="452.70" font-size="6.6" textLength="57.7" lengthAdjust="spacingAndGlyphs">Log-rank <tspan font-style="italic">P</tspan> = .00022</text>
<text x="49.70" y="484.30" font-size="6.5" textLength="33" lengthAdjust="spacingAndGlyphs">Cox model:</text>
<text x="129.50" y="484.30" font-size="6.5" text-anchor="middle">HR</text>
<text x="142.30" y="484.30" font-size="6.5" textLength="45" lengthAdjust="spacingAndGlyphs">Lower-Upper CI</text>
<text x="193.50" y="484.30" font-size="6.5" textLength="20.8" lengthAdjust="spacingAndGlyphs"><tspan font-style="italic">P</tspan>_value</text>
<text x="49.70" y="493.30" font-size="6.5" textLength="62.2" lengthAdjust="spacingAndGlyphs">NKCD16/226<tspan font-size="3.7" dy="-2.7" dx="0.4">Low</tspan><tspan dy="2.7"> Med</tspan></text>
<text x="49.70" y="501.70" font-size="6.5" textLength="60.7" lengthAdjust="spacingAndGlyphs">NKCD16/226<tspan font-size="3.7" dy="-2.7" dx="0.4">Low</tspan><tspan dy="2.7"> high</tspan></text>
<text x="130.00" y="493.50" font-size="6.5" text-anchor="middle">7.64</text>
<text x="130.00" y="501.80" font-size="6.5" text-anchor="middle">12.12</text>
<text x="146.90" y="493.50" font-size="6.5" textLength="35.3" lengthAdjust="spacingAndGlyphs">(1.81-32.21)</text>
<text x="146.90" y="501.80" font-size="6.5" textLength="35.3" lengthAdjust="spacingAndGlyphs">(2.82-52.12)</text>
<text x="193.10" y="493.50" font-size="6.5" textLength="20.8" lengthAdjust="spacingAndGlyphs">.0056**</text>
<text x="193.10" y="501.80" font-size="6.5" textLength="22.6" lengthAdjust="spacingAndGlyphs">.0008***</text>
<text x="38.75" y="540.10" font-size="6.6" textLength="43.7" lengthAdjust="spacingAndGlyphs">Number at risk</text>
<text x="40.00" y="550.40" font-size="6.6" text-anchor="end" fill="#1f4f7d">low</text>
<text x="47.20" y="550.40" font-size="6.6" text-anchor="middle" fill="#1f4f7d">45</text>
<text x="107.20" y="550.40" font-size="6.6" text-anchor="middle" fill="#1f4f7d">44</text>
<text x="167.20" y="550.40" font-size="6.6" text-anchor="middle" fill="#1f4f7d">27</text>
<text x="227.20" y="550.40" font-size="6.6" text-anchor="middle" fill="#1f4f7d">1</text>
<text x="40.00" y="560.35" font-size="6.6" text-anchor="end" fill="#5ab55a">medium</text>
<text x="47.20" y="560.35" font-size="6.6" text-anchor="middle" fill="#5ab55a">88</text>
<text x="107.20" y="560.35" font-size="6.6" text-anchor="middle" fill="#5ab55a">77</text>
<text x="167.20" y="560.35" font-size="6.6" text-anchor="middle" fill="#5ab55a">41</text>
<text x="227.20" y="560.35" font-size="6.6" text-anchor="middle" fill="#5ab55a">0</text>
<text x="40.00" y="570.30" font-size="6.6" text-anchor="end" fill="#b8183a">high</text>
<text x="47.20" y="570.30" font-size="6.6" text-anchor="middle" fill="#b8183a">44</text>
<text x="107.20" y="570.30" font-size="6.6" text-anchor="middle" fill="#b8183a">39</text>
<text x="167.20" y="570.30" font-size="6.6" text-anchor="middle" fill="#b8183a">18</text>
<text x="227.20" y="570.30" font-size="6.6" text-anchor="middle" fill="#b8183a">0</text>
<text x="253.20" y="508.80" font-size="11.4" fill="#111" font-weight="bold" stroke="#111" stroke-width="0.55">G</text>
<circle cx="419" cy="501.7" r="1.9" fill="#111"/>
<text x="423.80" y="504.00" font-size="6.6" textLength="20.4" lengthAdjust="spacingAndGlyphs"><tspan font-style="italic">P</tspan> ≤ .05</text>
<circle cx="453.1" cy="501.7" r="2.0" fill="#fff" stroke="#222" stroke-width="1.1"/>
<text x="458.10" y="504.00" font-size="6.6" textLength="20.1" lengthAdjust="spacingAndGlyphs"><tspan font-style="italic">P</tspan> &gt; .05</text>
<rect x="383.4" y="508.1" width="129.60000000000002" height="17.6" fill="#fff"/>
<rect x="383.4" y="525.7" width="129.60000000000002" height="15.9" fill="#ebebeb"/>
<rect x="383.4" y="508.1" width="129.60000000000002" height="33.50" fill="none" stroke="#d9d9d9" stroke-width="0.8"/>
<rect x="383.4" y="544.3" width="129.60000000000002" height="15.80" fill="#fff"/>
<rect x="383.4" y="544.3" width="129.60000000000002" height="15.80" fill="none" stroke="#d9d9d9" stroke-width="0.8"/>
<rect x="383.4" y="563.7" width="129.60000000000002" height="15.30" fill="#ebebeb"/>
<rect x="383.4" y="563.7" width="129.60000000000002" height="15.30" fill="none" stroke="#d9d9d9" stroke-width="0.8"/>
<rect x="383.4" y="582.4" width="129.60000000000002" height="16.20" fill="#fff"/>
<rect x="383.4" y="582.4" width="129.60000000000002" height="16.20" fill="none" stroke="#d9d9d9" stroke-width="0.8"/>
<rect x="383.4" y="601.2" width="129.60000000000002" height="16.10" fill="#ebebeb"/>
<rect x="383.4" y="601.2" width="129.60000000000002" height="16.10" fill="none" stroke="#d9d9d9" stroke-width="0.8"/>
<rect x="383.4" y="620.7" width="129.60000000000002" height="15.60" fill="#fff"/>
<rect x="383.4" y="620.7" width="129.60000000000002" height="15.60" fill="none" stroke="#d9d9d9" stroke-width="0.8"/>
<line x1="435.80" y1="508.10" x2="435.80" y2="636.30" stroke="#c4c4c4" stroke-width="0.8"/>
<line x1="428.50" y1="517.00" x2="494.40" y2="517.00" stroke="#4a4a4a" stroke-width="0.9"/>
<line x1="428.50" y1="515.90" x2="428.50" y2="518.10" stroke="#555" stroke-width="0.7"/>
<line x1="494.40" y1="515.90" x2="494.40" y2="518.10" stroke="#555" stroke-width="0.7"/>
<circle cx="460.9" cy="517.0" r="2.1" fill="#fff" stroke="#c0243c" stroke-width="1.25"/>
<line x1="401.50" y1="533.20" x2="486.50" y2="533.20" stroke="#4a4a4a" stroke-width="0.9"/>
<line x1="401.50" y1="532.10" x2="401.50" y2="534.30" stroke="#555" stroke-width="0.7"/>
<line x1="486.50" y1="532.10" x2="486.50" y2="534.30" stroke="#555" stroke-width="0.7"/>
<circle cx="444.2" cy="533.2" r="2.1" fill="#fff" stroke="#c0243c" stroke-width="1.25"/>
<circle cx="436.3" cy="552.0" r="2.1" fill="#fff" stroke="#e8a23a" stroke-width="1.25"/>
<line x1="409.90" y1="571.20" x2="467.00" y2="571.20" stroke="#4a4a4a" stroke-width="0.9"/>
<line x1="409.90" y1="570.10" x2="409.90" y2="572.30" stroke="#555" stroke-width="0.7"/>
<line x1="467.00" y1="570.10" x2="467.00" y2="572.30" stroke="#555" stroke-width="0.7"/>
<circle cx="438.6" cy="571.2" r="2.1" fill="#fff" stroke="#3a9a3a" stroke-width="1.25"/>
<line x1="388.10" y1="590.20" x2="443.30" y2="590.20" stroke="#4a4a4a" stroke-width="0.9"/>
<line x1="388.10" y1="589.10" x2="388.10" y2="591.30" stroke="#555" stroke-width="0.7"/>
<line x1="443.30" y1="589.10" x2="443.30" y2="591.30" stroke="#555" stroke-width="0.7"/>
<circle cx="416.3" cy="590.2" r="2.1" fill="#fff" stroke="#5aaee0" stroke-width="1.25"/>
<line x1="435.80" y1="609.00" x2="462.80" y2="609.00" stroke="#4a4a4a" stroke-width="0.9"/>
<line x1="435.80" y1="607.90" x2="435.80" y2="610.10" stroke="#555" stroke-width="0.7"/>
<line x1="462.80" y1="607.90" x2="462.80" y2="610.10" stroke="#555" stroke-width="0.7"/>
<circle cx="448.9" cy="609.0" r="2.3" fill="#1a3d6e"/>
<line x1="446.10" y1="628.50" x2="507.50" y2="628.50" stroke="#4a4a4a" stroke-width="0.9"/>
<line x1="446.10" y1="627.40" x2="446.10" y2="629.60" stroke="#555" stroke-width="0.7"/>
<line x1="507.50" y1="627.40" x2="507.50" y2="629.60" stroke="#555" stroke-width="0.7"/>
<circle cx="476.8" cy="628.5" r="2.3" fill="#c0186a"/>
<text x="265.60" y="519.30" font-size="6.4">ISS</text>
<text x="379.80" y="519.30" font-size="6.4" text-anchor="end">2 (<tspan font-style="italic">P</tspan> = .127)</text>
<text x="379.80" y="535.40" font-size="6.4" text-anchor="end">3 (<tspan font-style="italic">P</tspan> = .704)</text>
<text x="265.40" y="554.30" font-size="6.4">Age</text>
<text x="379.80" y="554.30" font-size="6.4" text-anchor="end">(<tspan font-style="italic">P</tspan> = .493)</text>
<text x="265.40" y="573.20" font-size="6.4">Sex</text>
<text x="379.80" y="573.20" font-size="6.4" text-anchor="end">female (<tspan font-style="italic">P</tspan> = .847)</text>
<text x="265.40" y="592.40" font-size="6.4">Treatment</text>
<text x="379.80" y="592.40" font-size="6.4" text-anchor="end">other (<tspan font-style="italic">P</tspan> = .161)</text>
<text x="265.40" y="611.40" font-size="6.6">NK CD16/CD226<tspan font-size="3.9" dy="-3.0" dx="0.6">Low</tspan></text>
<text x="379.80" y="611.10" font-size="6.4" text-anchor="end">(<tspan font-style="italic">P</tspan> = .048*)</text>
<text x="265.40" y="626.20" font-size="6.4">Cytogenetic risk</text>
<text x="265.40" y="634.50" font-size="6.4">t(4;14) or del(17p)</text>
<text x="379.80" y="630.40" font-size="6.4" text-anchor="end">(<tspan font-style="italic">P</tspan> = .008**)</text>
<text x="385.60" y="647.50" font-size="6.6" text-anchor="middle">0.3</text>
<text x="435.80" y="647.50" font-size="6.6" text-anchor="middle">1.0</text>
<text x="481.00" y="647.50" font-size="6.6" text-anchor="middle">3.0</text>
<text x="448.40" y="659.90" font-size="8.6" stroke="#2b2b2b" stroke-width="0.15" text-anchor="middle" textLength="9.2" lengthAdjust="spacingAndGlyphs">HR</text>
<rect x="0.5" y="0.5" width="519" height="668" fill="none" stroke="#4a4a4a" stroke-width="1"/>
</svg></body></html>
